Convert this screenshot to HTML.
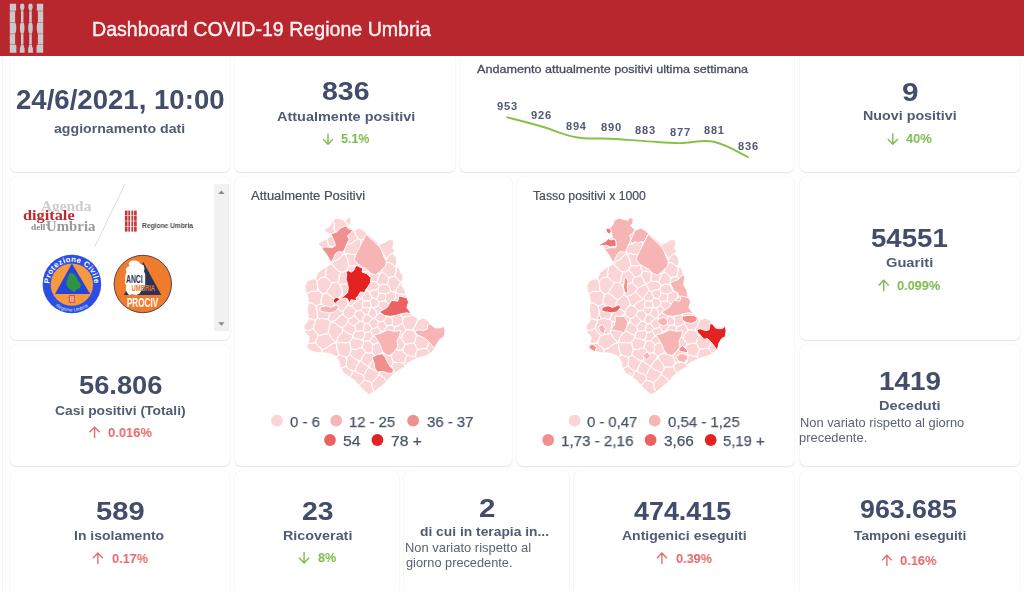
<!DOCTYPE html>
<html lang="it"><head><meta charset="utf-8"><title>Dashboard COVID-19 Regione Umbria</title>
<style>
html,body{margin:0;padding:0}
body{width:1024px;height:591px;overflow:hidden;background:#fefefe;position:relative;font-family:"Liberation Sans",sans-serif}
.hdr{position:absolute;left:0;top:0;width:1024px;height:56px;background:#b8272d;z-index:5}
.card{position:absolute;background:#fff;border-radius:6px;box-shadow:0 1px 1.5px rgba(0,0,0,.09),0 0 1.5px rgba(0,0,0,.08)}
.t{position:absolute;white-space:nowrap;line-height:1;transform-origin:0 0;z-index:6;will-change:transform}
svg{position:absolute;left:0;top:0;overflow:visible}
.ov{z-index:4}
.top{z-index:7}
</style></head><body>
<div class="card" style="left:9.5px;top:20px;width:220.5px;height:152px"></div>
<div class="card" style="left:235px;top:20px;width:220px;height:152px"></div>
<div class="card" style="left:460px;top:20px;width:334px;height:152px"></div>
<div class="card" style="left:800px;top:20px;width:220px;height:152px"></div>
<div class="card" style="left:9.5px;top:177px;width:220.5px;height:163px"></div>
<div class="card" style="left:235px;top:177px;width:277px;height:289px"></div>
<div class="card" style="left:517px;top:177px;width:277px;height:289px"></div>
<div class="card" style="left:800px;top:177px;width:220px;height:163px"></div>
<div class="card" style="left:9.5px;top:345px;width:220.5px;height:121px"></div>
<div class="card" style="left:800px;top:345px;width:220px;height:121px"></div>
<div class="card" style="left:9.5px;top:471px;width:220.5px;height:139px"></div>
<div class="card" style="left:235px;top:471px;width:164px;height:139px"></div>
<div class="card" style="left:404px;top:471px;width:165px;height:139px"></div>
<div class="card" style="left:574px;top:471px;width:220px;height:139px"></div>
<div class="card" style="left:800px;top:471px;width:220px;height:139px"></div>
<div style="position:absolute;left:2px;top:56px;width:1px;height:535px;background:#f4f4f4"></div>
<div class="hdr"></div>
<svg class="ov" width="1024" height="591" viewBox="0 0 1024 591">
<defs><filter id="mblur" x="-5%" y="-5%" width="110%" height="110%"><feGaussianBlur stdDeviation="0.4"/></filter></defs>
<g transform="translate(0,0)" stroke="#fff" stroke-width="0.95" stroke-linejoin="round" filter="url(#mblur)">
<g id="umbriaBase"><path d="M304.9,286.6 L305.7,291.1 L307.9,297.2 L308.3,302.1 L307.4,309.2 L308.3,316.3 L307.4,321.7 L303.9,326.1 L304.8,332.3 L309.2,336.8 L308.3,342.1 L306.6,346.6 L309.2,350.1 L314.6,351.9 L319.9,352.8 L324.3,352.8 L330.6,353.7 L335.9,356.3 L339.4,361.7 L340.3,367.9 L343.9,373.2 L349.2,376.8 L354.6,380.3 L358.1,384.8 L361.7,388.3 L365.2,391.5 L368.6,394.6 L373.0,392.8 L377.4,389.2 L381.9,385.7 L386.3,382.1 L389.9,377.7 L394.3,373.2 L399.7,369.7 L405.0,367.0 L406.8,363.4 L412.1,360.8 L418.3,358.1 L424.6,356.3 L430.8,353.7 L434.3,349.2 L437.0,343.9 L439.7,339.4 L444.1,336.8 L445.0,330.6 L444.1,326.1 L440.6,327.9 L435.2,327.0 L430.8,324.3 L428.1,320.8 L423.7,318.1 L418.3,319.9 L415.7,317.2 L411.2,313.7 L406.8,307.4 L408.6,302.1 L406.8,297.7 L405.4,294.2 L404.6,289.6 L401.5,285.0 L402.3,280.5 L403.1,275.9 L400.8,272.9 L399.3,268.3 L395.5,266.0 L397.0,262.2 L396.2,257.6 L393.2,254.6 L394.7,250.8 L392.4,247.7 L393.9,243.9 L393.2,240.1 L389.4,239.4 L384.8,242.4 L380.2,243.9 L376.4,241.6 L371.9,237.8 L367.3,234.0 L366.6,233.3 L362.8,230.2 L359.0,227.9 L355.9,229.5 L352.1,228.7 L348.3,225.7 L350.6,223.4 L351.3,218.8 L348.3,217.3 L346.0,220.3 L342.2,219.6 L336.9,218.0 L332.3,220.3 L330.8,224.9 L327.7,227.9 L323.9,229.5 L325.5,231.7 L330.0,234.0 L329.3,237.8 L325.5,239.4 L321.6,241.6 L317.8,243.9 L321.6,247.7 L323.9,251.5 L327.7,256.1 L330.0,260.7 L331.5,263.7 L326.2,266.8 L321.6,269.8 L317.8,272.9 L315.6,278.2 L310.2,279.7 L306.4,282.0Z" fill="#fbd5d5" stroke="none"/><path d="M380.5,273.2 L382.3,272.5 L382.3,271.5 L382.1,270.4 L382.5,269.2 L383.1,268.2 L383.3,267.1 L383.2,265.7 L383.5,264.1 L384.2,262.5 L382.8,262.3 L382.0,262.6 L381.1,262.5 L379.3,262.0 L377.2,262.2 L375.9,262.6 L374.5,262.4 L372.9,262.0 L371.8,262.3 L371.4,263.4 L371.0,264.2 L370.3,265.3 L370.0,266.7 L370.1,267.9 L370.1,269.1 L369.6,270.8 L371.3,271.6 L372.8,271.9 L374.0,271.8 L375.2,272.4 L376.5,273.0 L377.7,272.9 L378.5,273.2 L379.3,274.0Z M307.5,293.3 L309.0,292.7 L309.9,292.1 L310.7,291.5 L312.4,291.3 L313.7,291.4 L314.9,291.5 L317.0,291.3 L318.4,290.6 L317.9,289.1 L317.6,287.1 L317.5,285.6 L317.6,284.8 L317.5,283.9 L317.2,282.6 L316.9,281.5 L316.9,280.8 L316.2,280.2 L315.7,279.0 L314.9,278.7 L314.4,278.5 L310.2,279.7 L306.4,282.0 L304.9,286.6 L305.7,291.1 L306.7,293.8Z M394.0,251.8 L393.2,252.9 L392.4,253.6 L390.8,254.1 L390.1,254.7 L389.4,255.7 L387.9,256.9 L387.3,258.2 L386.6,259.4 L386.0,260.3 L385.6,261.4 L387.0,262.5 L388.7,262.6 L390.5,263.2 L391.8,264.2 L392.6,264.5 L393.1,264.9 L393.8,266.0 L395.0,266.3 L396.6,266.7 L395.5,266.0 L397.0,262.2 L396.2,257.6 L393.2,254.6 L394.4,251.5Z M374.4,391.4 L373.6,390.9 L372.8,389.3 L372.2,387.7 L371.9,386.7 L371.8,385.0 L371.7,383.2 L371.6,382.5 L370.1,382.0 L368.5,381.1 L367.0,381.0 L365.8,380.8 L364.4,380.0 L362.9,381.0 L362.3,382.2 L361.5,383.3 L360.1,384.2 L359.6,384.8 L358.6,385.2 L358.6,385.2 L361.7,388.3 L365.2,391.5 L368.6,394.6 L373.0,392.8 L374.5,391.6Z M362.9,306.4 L362.5,305.4 L362.3,304.2 L362.5,303.0 L363.0,302.2 L363.2,301.4 L362.7,300.5 L362.3,299.3 L361.7,298.7 L360.7,298.9 L359.4,300.0 L358.8,300.7 L357.2,301.3 L355.9,301.8 L355.2,302.6 L353.4,303.8 L352.3,305.1 L351.5,306.3 L352.7,306.9 L353.9,307.9 L354.9,309.2 L355.7,309.6 L356.2,310.5 L356.7,310.9 L358.0,310.9 L359.7,310.5 L360.8,310.1 L361.6,308.8 L363.0,307.5Z M376.5,289.3 L375.5,289.7 L373.7,290.1 L372.1,290.5 L371.2,290.9 L369.7,291.4 L369.9,293.5 L370.3,294.8 L371.0,295.5 L371.7,296.9 L372.3,298.1 L373.1,297.9 L374.0,298.2 L375.3,298.9 L376.4,299.2 L376.6,298.5 L377.3,297.4 L378.3,295.8 L378.7,294.0 L379.0,292.5 L378.5,291.7 L378.2,291.1 L377.9,289.8 L377.5,288.9Z M339.2,271.4 L338.0,270.7 L336.9,269.4 L336.0,269.0 L335.4,268.2 L334.7,266.8 L333.9,266.3 L332.7,265.4 L331.3,263.9 L331.0,264.0 L326.3,266.7 L326.4,267.1 L326.5,268.4 L326.0,270.3 L325.6,272.1 L325.8,273.4 L326.0,274.5 L325.6,275.7 L325.1,277.0 L326.4,277.5 L327.3,278.1 L328.1,279.5 L328.9,280.0 L329.9,280.8 L331.2,282.2 L332.5,282.8 L333.5,282.4 L334.7,282.4 L336.2,282.6 L337.1,282.7 L337.6,282.5 L337.9,281.8 L338.7,280.6 L339.2,278.9 L339.1,277.2 L339.4,275.8 L340.2,274.4 L340.5,273.0 L340.3,271.8Z M334.3,340.6 L333.0,339.8 L331.9,339.1 L331.1,337.5 L330.6,336.7 L330.1,335.7 L329.4,334.1 L328.4,333.5 L326.2,334.1 L324.6,334.3 L323.4,334.5 L321.6,334.8 L320.3,335.4 L319.8,335.7 L318.4,335.6 L317.7,336.5 L317.5,337.4 L317.4,338.3 L316.7,339.6 L315.9,341.3 L315.7,342.9 L316.2,344.1 L316.8,344.6 L317.8,345.8 L318.9,346.8 L319.9,347.1 L320.8,348.3 L321.4,349.5 L321.8,350.0 L322.7,349.3 L324.1,348.9 L324.7,348.6 L325.7,348.2 L327.3,347.6 L328.0,346.7 L329.2,345.7 L331.0,344.8 L331.9,344.1 L333.0,343.5 L334.8,343.1 L335.6,342.7 L335.6,342.4 L335.4,342.0Z M361.7,361.2 L362.3,361.8 L362.9,363.1 L363.8,363.6 L364.9,364.0 L366.3,365.2 L367.8,365.9 L369.0,366.2 L370.0,364.9 L370.2,363.5 L371.1,362.3 L372.2,361.3 L372.5,360.7 L373.2,360.1 L374.4,359.3 L374.8,358.1 L375.3,356.6 L374.7,355.3 L374.0,354.6 L373.2,354.1 L372.2,353.1 L371.0,352.7 L369.6,352.9 L368.0,353.2 L366.9,353.0 L366.4,352.6 L365.6,352.8 L364.5,353.9 L363.8,354.9 L363.6,355.6 L362.7,356.5 L361.7,357.7 L361.5,359.2 L360.9,360.8Z M406.1,344.2 L407.4,344.3 L408.1,343.9 L409.4,343.5 L411.4,343.4 L412.8,343.3 L414.0,343.1 L414.8,341.2 L415.4,339.5 L415.4,338.2 L415.7,337.5 L416.6,336.8 L416.9,335.8 L415.8,334.3 L414.9,333.0 L414.3,332.3 L413.8,330.9 L413.4,329.4 L412.5,329.9 L410.7,330.1 L409.2,329.9 L408.0,329.7 L406.3,330.1 L405.1,331.2 L404.7,332.0 L404.2,332.6 L402.9,333.4 L402.3,334.6 L402.0,336.1 L400.9,337.8 L401.6,339.2 L402.4,339.9 L403.2,341.3 L404.0,342.5 L404.5,342.9 L404.9,343.9Z M395.6,294.4 L395.4,295.8 L395.7,297.1 L395.7,297.9 L395.2,298.5 L394.7,299.7 L394.5,301.5 L395.0,302.5 L395.8,302.8 L397.0,303.4 L398.4,304.6 L400.0,305.0 L401.3,305.4 L402.2,306.5 L402.9,305.6 L404.4,304.7 L405.2,303.9 L405.7,303.3 L407.1,302.8 L408.1,302.4 L408.5,301.9 L406.8,297.7 L405.6,294.6 L404.6,294.6 L403.2,294.8 L402.1,294.3 L400.7,293.8 L399.4,294.0 L398.6,293.9 L397.7,293.2 L396.0,293.1Z M342.5,329.1 L342.4,327.6 L340.7,326.9 L339.1,326.7 L338.0,325.5 L337.4,324.9 L336.7,324.7 L335.9,323.6 L334.5,322.9 L332.9,322.7 L331.3,321.6 L330.3,321.3 L330.4,322.7 L329.8,324.6 L329.3,326.4 L329.3,327.7 L329.4,328.6 L328.8,329.6 L328.3,330.8 L328.4,332.1 L328.4,333.5 L329.4,334.1 L330.1,335.7 L330.6,336.7 L331.1,337.5 L331.9,339.1 L333.0,339.8 L334.3,340.6 L335.4,342.0 L336.4,340.8 L337.5,339.2 L337.7,337.6 L338.5,336.2 L339.6,335.2 L340.0,334.5 L340.5,333.8 L341.7,332.9 L342.3,331.7 L342.6,330.3Z M399.0,280.2 L398.0,279.3 L397.4,279.0 L396.9,277.7 L396.2,277.0 L395.1,276.6 L393.3,276.6 L391.9,276.7 L390.9,277.0 L389.3,277.5 L388.6,279.0 L388.5,280.6 L388.4,282.0 L387.8,283.0 L387.1,283.7 L386.9,284.2 L388.0,285.1 L389.0,286.9 L389.8,288.0 L390.3,289.3 L390.7,291.3 L391.2,291.3 L392.0,291.4 L393.5,292.0 L395.3,292.6 L395.9,291.0 L396.1,289.5 L397.0,288.3 L397.9,287.3 L398.1,286.5 L398.7,285.4 L399.8,284.1 L400.1,282.8 L400.5,281.5Z M362.3,339.8 L361.5,340.0 L359.9,339.5 L358.0,338.7 L356.5,338.8 L355.3,338.6 L354.0,337.7 L352.6,337.6 L351.9,338.7 L351.8,339.5 L350.9,340.4 L349.9,341.6 L349.8,343.1 L350.0,344.5 L350.2,345.5 L350.5,347.1 L350.9,348.7 L351.4,349.4 L353.4,349.2 L354.6,349.3 L355.7,349.5 L357.2,349.1 L358.2,348.4 L358.8,348.1 L360.3,348.2 L362.2,348.2 L362.2,346.9 L362.1,345.8 L362.6,344.8 L363.3,344.0 L363.5,343.1 L363.4,341.9 L362.9,340.4Z M355.8,311.6 L355.1,312.6 L354.6,313.5 L354.5,314.6 L355.1,315.9 L355.8,317.5 L356.8,318.2 L357.9,319.2 L358.8,320.7 L359.6,321.3 L360.4,321.2 L361.6,321.3 L362.7,321.7 L362.8,319.9 L363.0,318.0 L363.9,316.6 L364.6,315.8 L364.7,315.2 L364.3,314.1 L363.7,313.0 L362.9,312.6 L361.9,311.5 L360.8,310.1 L359.7,310.5 L358.0,310.9 L356.7,310.9 L356.2,310.5Z M348.9,283.1 L347.8,283.7 L347.3,284.0 L345.9,284.0 L344.2,283.9 L343.2,284.0 L341.8,284.3 L339.8,284.7 L340.3,285.5 L341.0,287.3 L341.7,289.3 L342.3,290.5 L342.4,291.8 L342.3,293.4 L342.1,294.3 L342.0,294.9 L342.7,295.5 L343.6,296.3 L344.7,296.6 L346.0,296.1 L346.9,295.7 L348.6,295.2 L350.1,294.5 L350.8,293.7 L352.3,292.9 L353.6,292.1 L354.1,291.5 L354.7,289.9 L355.6,289.0 L355.7,288.3 L355.0,287.7 L353.9,286.2 L352.8,285.5 L351.7,284.8 L350.9,283.2 L350.2,282.3Z M354.3,230.0 L354.7,231.1 L355.0,232.3 L355.4,234.2 L355.9,235.2 L356.6,236.1 L357.4,237.7 L358.3,238.3 L359.1,239.0 L359.9,239.5 L360.6,240.0 L361.1,239.7 L362.3,239.3 L363.6,238.6 L364.1,237.6 L365.5,236.4 L366.9,235.4 L367.7,234.6 L367.9,234.5 L367.3,234.0 L366.6,233.3 L362.8,230.2 L359.0,227.9 L355.9,229.5 L354.0,229.1Z M316.0,307.0 L316.5,308.2 L317.0,310.0 L317.3,311.9 L317.3,312.9 L317.1,313.5 L317.2,314.7 L317.4,316.0 L317.6,317.1 L317.4,318.2 L318.3,318.4 L319.0,318.8 L320.7,318.5 L322.7,318.3 L324.1,318.7 L325.4,319.2 L327.0,319.1 L328.3,319.1 L328.3,318.4 L328.5,317.6 L329.2,316.2 L329.8,314.2 L329.8,312.3 L329.7,311.1 L330.2,310.4 L330.8,309.5 L330.7,308.2 L329.3,307.5 L327.7,307.5 L326.2,306.7 L325.0,305.8 L324.3,305.8 L323.7,305.1 L322.6,304.2 L321.0,304.0 L319.3,304.6 L318.5,304.9 L317.5,305.3 L315.9,305.8Z M343.6,296.3 L342.7,295.5 L342.0,294.9 L341.5,295.3 L340.6,296.1 L339.1,297.1 L338.3,298.1 L337.2,298.9 L335.4,299.5 L335.3,300.7 L335.3,301.3 L334.8,301.9 L334.1,302.9 L334.0,304.6 L333.9,306.5 L334.7,307.1 L335.2,307.4 L335.9,308.6 L337.1,309.2 L338.8,309.5 L340.6,310.7 L342.0,311.3 L343.0,311.6 L343.4,310.3 L344.7,308.9 L345.5,307.8 L345.8,307.0 L347.0,306.5 L347.9,305.9 L348.2,305.0 L348.0,304.2 L347.7,302.5 L347.3,301.0 L346.8,300.1 L346.1,298.6 L345.3,297.1 L344.7,296.6Z M364.6,333.9 L364.4,335.3 L364.4,336.4 L364.0,337.2 L363.2,338.4 L362.9,340.4 L363.4,341.9 L364.8,341.4 L366.7,340.8 L368.1,340.8 L369.2,340.9 L370.2,339.7 L371.2,338.7 L371.4,337.9 L372.1,337.1 L373.2,336.0 L372.6,335.2 L371.9,334.0 L371.2,332.3 L370.5,331.1 L369.3,331.7 L367.8,332.1 L366.9,332.2 L366.4,332.2 L365.2,332.5Z M382.6,344.7 L382.1,345.8 L382.1,346.8 L382.3,348.7 L382.4,350.8 L382.2,352.2 L382.1,353.0 L384.1,353.8 L385.9,354.5 L387.1,354.4 L387.7,354.9 L388.6,355.8 L389.9,355.8 L391.4,356.1 L391.8,354.9 L392.5,353.5 L393.7,352.1 L394.3,351.1 L394.7,350.3 L393.9,349.7 L393.2,348.2 L392.9,347.5 L392.6,346.6 L392.2,344.9 L391.6,343.9 L389.8,343.9 L388.5,343.3 L387.1,343.1 L385.6,343.3 L384.2,342.9 L383.7,343.2 L383.1,343.3Z M372.1,337.1 L371.4,337.9 L371.2,338.7 L370.2,339.7 L369.2,340.9 L370.2,341.7 L370.9,342.1 L371.6,343.1 L372.3,344.3 L373.0,344.7 L374.3,343.9 L375.0,343.3 L376.5,343.0 L378.3,342.9 L379.3,342.9 L380.4,342.8 L379.7,341.5 L378.9,340.3 L378.2,339.6 L377.6,337.9 L377.3,336.2 L376.0,336.6 L375.0,336.7 L374.4,336.3 L373.2,336.0Z M331.3,263.9 L332.9,262.8 L333.6,261.7 L334.8,260.9 L336.3,260.3 L336.9,259.9 L337.9,259.5 L339.3,258.8 L339.7,257.9 L340.7,256.8 L342.0,255.8 L342.4,254.9 L343.4,254.3 L344.8,253.9 L344.9,253.4 L344.6,252.1 L344.4,251.2 L344.3,250.4 L344.2,249.1 L343.3,248.4 L342.3,248.4 L340.7,248.6 L338.6,248.0 L337.0,247.5 L336.2,247.7 L335.5,247.5 L334.3,246.7 L332.9,246.5 L331.7,246.6 L330.4,246.0 L328.7,245.3 L327.5,246.1 L327.1,247.1 L326.7,248.4 L325.5,250.0 L324.9,251.6 L324.7,252.5 L327.7,256.1 L330.0,260.7 L331.5,263.7 L331.0,264.0Z M390.6,366.3 L389.7,366.8 L387.9,367.1 L386.4,367.1 L385.4,367.1 L384.0,367.1 L382.4,367.4 L382.1,368.6 L381.7,370.0 L380.6,371.3 L379.8,372.5 L379.6,373.3 L379.5,374.3 L379.2,374.9 L380.5,375.2 L381.9,376.5 L383.2,377.3 L384.3,377.7 L385.0,379.1 L385.5,379.9 L386.0,380.5 L386.6,381.7 L389.9,377.7 L394.3,373.2 L395.2,372.6 L394.5,371.9 L393.6,371.3 L392.9,370.0 L392.5,368.9 L392.2,368.5 L392.0,367.1 L391.6,365.7Z M357.6,360.0 L356.2,359.8 L355.0,358.8 L354.0,357.7 L353.0,357.5 L352.0,356.3 L350.7,355.4 L349.4,355.1 L348.7,356.0 L347.5,356.7 L345.9,357.2 L346.1,358.4 L346.5,359.0 L346.7,359.8 L346.5,361.3 L346.2,363.2 L346.3,364.6 L346.5,365.9 L347.1,367.0 L347.5,367.9 L348.2,368.1 L349.2,369.1 L350.6,370.1 L352.2,370.3 L353.6,371.1 L354.6,371.1 L355.1,371.1 L355.4,369.4 L356.4,367.6 L356.9,366.0 L357.0,364.9 L357.6,364.2 L358.5,363.6 L358.8,362.7 L358.9,361.1Z M316.3,319.1 L317.4,318.2 L317.6,317.1 L317.4,316.0 L317.2,314.7 L317.1,313.5 L317.3,312.9 L317.3,311.9 L317.0,310.0 L316.5,308.2 L316.0,307.0 L315.9,305.8 L314.7,304.9 L314.0,304.4 L313.5,304.4 L312.5,303.6 L311.0,302.8 L309.2,302.8 L308.2,302.5 L307.4,309.2 L308.3,316.3 L308.0,318.2 L308.2,318.5 L309.4,318.9 L311.4,318.8 L313.4,319.6 L314.8,320.2 L315.5,320.1Z M377.3,320.3 L376.6,320.0 L376.0,319.2 L375.6,318.0 L374.6,318.1 L373.1,318.4 L372.5,318.9 L372.0,319.5 L370.8,320.3 L369.8,321.4 L369.4,322.6 L368.3,323.7 L369.4,324.4 L370.2,326.0 L370.7,326.6 L371.4,327.4 L372.3,328.8 L373.3,328.6 L374.6,328.1 L376.6,327.6 L377.9,327.3 L377.7,325.7 L377.7,324.5 L378.1,323.4 L378.4,322.2 L378.2,321.0Z M402.2,308.2 L401.5,309.1 L400.9,309.8 L400.9,311.0 L400.7,312.6 L400.0,314.1 L400.5,314.6 L401.2,315.8 L402.1,317.1 L403.2,317.7 L404.7,317.0 L405.8,316.7 L407.5,316.5 L408.9,316.4 L409.4,315.9 L410.4,315.5 L411.9,315.3 L412.8,315.5 L413.9,315.8 L413.9,315.8 L411.2,313.7 L406.8,307.4 L408.6,302.1 L408.5,301.9 L408.1,302.4 L407.1,302.8 L405.7,303.3 L405.2,303.9 L404.4,304.7 L402.9,305.6 L402.2,306.5Z M379.3,306.7 L380.2,307.2 L381.0,307.9 L381.9,309.2 L383.0,309.8 L384.3,310.3 L385.0,309.7 L386.0,308.9 L387.6,308.2 L388.7,307.5 L389.2,307.0 L389.6,305.9 L390.2,305.0 L390.6,304.3 L389.3,304.1 L387.9,303.3 L386.6,302.1 L385.6,301.7 L384.9,301.0 L384.0,301.1 L383.3,301.1 L381.7,301.2 L380.4,301.6 L379.3,302.2 L379.0,302.9 L378.5,303.9 L378.3,305.3Z M377.6,337.9 L378.2,339.6 L378.9,340.3 L379.7,341.5 L380.4,342.8 L381.9,342.8 L383.1,343.3 L383.7,343.2 L384.2,342.9 L384.9,341.3 L385.5,339.6 L385.7,338.3 L385.7,337.1 L386.2,335.9 L386.9,334.7 L387.1,333.7 L386.4,333.3 L385.4,332.4 L384.4,330.9 L383.1,331.0 L381.5,331.3 L380.4,331.3 L380.1,332.2 L379.4,332.9 L378.2,333.6 L377.9,334.7 L377.3,336.2Z M333.6,221.7 L334.1,223.6 L334.3,224.6 L334.2,225.9 L334.1,227.4 L334.1,228.1 L334.2,228.8 L334.6,230.3 L335.1,231.8 L336.3,231.7 L337.8,232.1 L339.7,232.8 L341.2,232.8 L342.0,232.9 L342.6,232.2 L344.0,231.7 L344.7,231.2 L345.4,230.4 L346.9,229.3 L347.6,228.0 L348.6,226.8 L347.9,225.7 L347.4,225.0 L347.0,223.5 L346.5,222.8 L345.6,222.1 L344.6,220.6 L343.4,220.0 L343.3,219.8 L342.2,219.6 L336.9,218.0 L332.9,220.0Z M345.8,245.9 L345.1,247.4 L344.2,249.1 L344.3,250.4 L344.4,251.2 L344.6,252.1 L344.9,253.4 L345.8,253.7 L347.3,253.5 L349.4,253.7 L351.0,254.3 L351.9,254.6 L352.8,254.3 L354.1,254.4 L355.3,254.9 L356.1,254.9 L357.3,254.6 L359.3,254.6 L360.3,253.2 L360.7,252.0 L361.6,251.2 L362.9,250.6 L363.3,250.0 L362.5,249.3 L361.7,247.7 L361.2,246.0 L360.8,244.9 L360.7,243.4 L360.8,241.6 L360.8,240.8 L360.6,240.0 L359.9,239.5 L359.1,239.0 L357.3,239.3 L356.4,239.9 L355.1,240.7 L353.2,241.8 L352.2,242.8 L351.2,243.5 L349.6,244.0 L348.8,244.2 L348.2,244.3 L346.8,244.4 L345.9,244.8Z M337.1,282.7 L336.2,282.6 L334.7,282.4 L333.5,282.4 L332.5,282.8 L331.7,284.1 L330.6,285.5 L330.2,286.7 L329.8,287.6 L328.6,288.4 L327.9,289.3 L327.6,290.4 L326.7,291.8 L325.6,293.2 L327.3,293.5 L328.8,294.6 L330.0,295.6 L330.9,295.9 L331.6,297.1 L332.5,297.9 L333.8,298.2 L335.4,299.5 L337.2,298.9 L338.3,298.1 L339.1,297.1 L340.6,296.1 L341.5,295.3 L342.0,294.9 L342.1,294.3 L342.3,293.4 L342.4,291.8 L342.3,290.5 L341.7,289.3 L341.0,287.3 L340.3,285.5 L339.8,284.7 L338.8,283.9 L338.0,282.8 L337.6,282.5Z M346.8,323.2 L346.4,324.4 L345.2,325.3 L344.1,326.0 L343.7,326.7 L342.4,327.6 L342.5,329.1 L342.6,330.3 L343.7,330.4 L344.7,331.3 L345.7,332.2 L346.7,332.3 L347.8,333.0 L349.1,334.0 L350.4,334.3 L351.8,334.7 L353.0,335.8 L353.6,334.3 L353.7,333.0 L354.3,331.9 L355.3,331.2 L355.8,330.6 L355.6,330.0 L355.3,329.0 L355.0,327.3 L354.8,325.8 L353.1,325.6 L351.7,324.8 L350.7,323.8 L349.9,323.6 L349.0,322.8 L347.8,321.8Z M367.4,290.9 L368.3,291.1 L369.7,291.4 L371.2,290.9 L372.1,290.5 L373.7,290.1 L375.5,289.7 L376.5,289.3 L377.5,288.9 L378.2,288.5 L378.7,287.9 L378.8,286.8 L378.7,285.4 L378.1,283.8 L377.3,283.0 L376.5,282.2 L375.1,281.6 L374.1,281.3 L372.9,281.6 L371.5,281.4 L370.6,280.8 L369.4,280.9 L367.8,282.0 L366.4,282.9 L365.6,283.5 L363.9,283.9 L363.5,284.4 L364.3,285.0 L365.1,286.4 L365.9,287.8 L366.4,288.6 L366.9,289.8Z M352.1,277.6 L351.3,278.7 L350.6,279.8 L350.5,281.0 L350.2,282.3 L350.9,283.2 L351.7,284.8 L352.8,285.5 L353.9,286.2 L355.0,287.7 L355.7,288.3 L356.5,287.7 L358.0,287.0 L358.9,286.5 L359.5,286.0 L361.2,285.5 L362.5,285.0 L363.5,284.4 L363.9,283.9 L363.0,282.8 L362.4,281.7 L362.0,281.4 L361.6,280.3 L361.2,278.9 L360.6,278.2 L359.8,277.1 L358.8,275.4 L356.9,275.9 L355.9,276.6 L354.5,277.0 L353.0,276.9 L352.3,276.6Z M402.0,350.1 L400.4,350.3 L399.1,350.2 L398.2,350.0 L396.6,350.0 L394.7,350.3 L394.3,351.1 L393.7,352.1 L392.5,353.5 L391.8,354.9 L391.4,356.1 L391.7,357.6 L391.9,358.5 L392.2,358.9 L392.5,359.9 L392.9,361.5 L393.3,362.8 L394.1,362.3 L395.4,362.3 L396.7,362.7 L397.4,362.8 L398.7,362.5 L400.8,362.5 L402.5,363.1 L403.5,363.5 L404.3,362.5 L405.2,360.9 L405.4,359.1 L405.9,357.4 L406.9,356.1 L407.3,355.4 L406.3,354.6 L405.2,353.3 L404.2,352.7 L403.5,351.9 L403.0,350.3 L402.7,349.5Z M384.6,329.6 L385.4,328.3 L386.5,327.2 L387.0,326.3 L387.3,325.7 L386.2,324.9 L385.3,323.6 L384.7,323.2 L384.2,322.3 L383.8,320.8 L383.3,321.1 L382.4,321.4 L380.8,321.6 L379.2,321.4 L378.2,321.0 L378.4,322.2 L378.1,323.4 L377.7,324.5 L377.7,325.7 L377.9,327.3 L378.8,328.7 L379.3,329.3 L379.8,330.0 L380.4,331.3 L381.5,331.3 L383.1,331.0 L384.4,330.9Z M384.0,367.1 L385.4,367.1 L386.4,367.1 L387.9,367.1 L389.7,366.8 L390.6,366.3 L391.6,365.7 L392.5,364.8 L393.1,363.8 L393.3,362.8 L392.9,361.5 L392.5,359.9 L392.2,358.9 L391.9,358.5 L391.7,357.6 L391.4,356.1 L389.9,355.8 L388.6,355.8 L387.7,354.9 L387.1,354.4 L385.9,354.5 L384.1,353.8 L382.1,353.0 L381.1,353.4 L380.3,353.8 L378.7,354.3 L377.8,354.9 L377.3,355.8 L376.1,356.7 L376.4,357.6 L376.9,359.1 L377.7,360.7 L378.7,361.4 L379.8,362.6 L380.6,363.8 L381.2,364.2 L381.6,365.5 L381.9,366.7 L382.4,367.4Z M363.7,376.1 L364.0,377.3 L364.2,378.4 L364.3,378.9 L364.4,380.0 L365.8,380.8 L367.0,381.0 L368.5,381.1 L370.1,382.0 L371.6,382.5 L372.3,381.8 L372.8,381.3 L374.1,380.8 L374.9,380.0 L375.3,379.0 L376.6,377.7 L377.5,376.5 L377.9,375.6 L379.2,374.9 L379.5,374.3 L379.6,373.3 L378.9,372.3 L378.0,372.2 L376.8,371.6 L375.4,370.5 L373.9,370.3 L372.7,369.9 L371.7,368.8 L370.8,368.3 L369.9,368.1 L368.9,367.0 L368.1,367.9 L367.9,368.7 L367.1,369.6 L366.0,370.6 L365.6,372.0 L365.2,373.3 L364.1,374.5 L363.4,375.4Z M341.4,315.0 L340.9,315.4 L339.9,316.0 L338.4,316.9 L337.8,318.1 L336.6,319.2 L335.0,320.1 L334.2,320.8 L332.9,321.2 L331.3,321.6 L332.9,322.7 L334.5,322.9 L335.9,323.6 L336.7,324.7 L337.4,324.9 L338.0,325.5 L339.1,326.7 L340.7,326.9 L342.4,327.6 L343.7,326.7 L344.1,326.0 L345.2,325.3 L346.4,324.4 L346.8,323.2 L347.8,321.8 L348.1,320.7 L348.1,319.8 L347.9,318.7 L346.9,317.5 L345.7,317.2 L344.7,316.6 L343.9,315.4 L343.3,314.9 L342.8,314.5Z M378.6,248.2 L379.1,249.3 L379.7,249.7 L380.4,251.1 L381.4,252.3 L382.6,253.0 L383.8,254.7 L384.9,255.9 L385.6,256.7 L386.1,258.4 L386.6,259.4 L387.3,258.2 L387.9,256.9 L389.4,255.7 L390.1,254.7 L390.8,254.1 L392.4,253.6 L393.2,252.9 L394.0,251.8 L394.4,251.5 L394.7,250.8 L392.4,247.7 L393.9,243.9 L393.2,240.1 L389.4,239.4 L384.8,242.4 L380.2,243.9 L379.0,243.2 L378.8,244.0 L378.9,245.5 L378.7,246.4 L377.9,247.0Z M373.2,354.1 L374.0,354.6 L374.7,355.3 L375.3,356.6 L376.1,356.7 L377.3,355.8 L377.8,354.9 L378.7,354.3 L380.3,353.8 L381.1,353.4 L382.1,353.0 L382.2,352.2 L382.4,350.8 L382.3,348.7 L382.1,346.8 L382.1,345.8 L382.6,344.7 L383.1,343.3 L381.9,342.8 L380.4,342.8 L379.3,342.9 L378.3,342.9 L376.5,343.0 L375.0,343.3 L374.3,343.9 L373.0,344.7 L372.5,346.1 L372.3,347.8 L372.6,349.2 L372.7,350.0 L372.5,350.5 L372.1,351.4 L372.2,353.1Z M393.0,326.1 L394.0,326.2 L394.9,326.7 L395.8,326.5 L396.7,326.2 L398.5,325.7 L400.0,324.9 L400.9,324.1 L402.4,323.4 L402.9,322.5 L402.8,321.7 L402.5,320.4 L402.7,319.0 L403.2,317.7 L402.1,317.1 L401.2,315.8 L400.5,314.6 L400.0,314.1 L398.8,314.4 L398.1,314.2 L397.0,314.3 L395.0,314.7 L394.1,315.5 L393.7,316.1 L392.8,316.6 L391.5,317.0 L391.7,317.8 L392.2,319.3 L392.6,321.1 L392.6,322.4 L392.3,323.6 L392.1,325.1Z M311.8,328.7 L311.2,329.3 L310.1,330.0 L308.4,330.5 L307.4,330.5 L305.8,330.3 L304.5,330.2 L304.8,332.3 L309.2,336.8 L308.3,342.1 L307.9,343.2 L308.9,343.3 L311.0,343.5 L312.1,343.3 L313.4,342.9 L315.0,342.8 L315.7,342.9 L315.9,341.3 L316.7,339.6 L317.4,338.3 L317.5,337.4 L317.7,336.5 L318.4,335.6 L317.9,334.2 L317.0,333.7 L316.0,332.3 L314.9,330.8 L313.9,330.0 L313.3,328.2Z M364.5,250.2 L366.1,250.9 L367.3,251.1 L367.9,250.9 L368.7,251.2 L370.2,251.8 L372.2,251.8 L373.2,250.5 L374.3,249.3 L376.0,248.3 L376.8,247.5 L377.9,247.0 L378.7,246.4 L378.9,245.5 L378.8,244.0 L379.0,243.2 L376.4,241.6 L371.9,237.8 L367.9,234.5 L367.7,234.6 L366.9,235.4 L365.5,236.4 L364.1,237.6 L363.6,238.6 L362.3,239.3 L361.1,239.7 L360.6,240.0 L360.8,240.8 L360.8,241.6 L360.7,243.4 L360.8,244.9 L361.2,246.0 L361.7,247.7 L362.5,249.3 L363.3,250.0Z M349.8,353.5 L350.6,352.0 L350.9,350.8 L350.8,350.0 L351.4,349.4 L350.9,348.7 L350.5,347.1 L350.2,345.5 L350.0,344.5 L349.8,343.1 L348.9,342.6 L347.4,342.6 L346.0,343.0 L344.9,342.9 L343.2,342.5 L341.3,342.6 L339.9,342.9 L339.2,342.7 L338.3,342.1 L336.9,342.2 L335.6,342.4 L335.6,342.7 L336.1,343.2 L336.5,344.4 L336.7,345.7 L336.8,346.5 L336.9,348.0 L337.1,350.0 L337.6,351.2 L338.2,352.5 L338.9,354.3 L339.6,355.1 L340.7,355.1 L341.9,355.8 L343.0,356.4 L343.8,356.3 L344.6,356.4 L345.9,357.2 L347.5,356.7 L348.7,356.0 L349.4,355.1Z M426.1,348.3 L425.3,348.6 L423.7,348.5 L422.2,348.5 L421.1,348.8 L419.5,349.1 L417.6,349.1 L417.3,350.0 L417.2,350.7 L416.4,351.8 L415.8,353.4 L415.8,355.2 L415.3,356.8 L416.2,357.9 L417.0,358.3 L417.2,358.6 L418.3,358.1 L424.6,356.3 L430.5,353.8 L429.6,352.5 L428.6,351.5 L427.7,350.6 L427.1,348.8 L426.7,347.6Z M392.8,316.6 L393.7,316.1 L394.1,315.5 L395.0,314.7 L393.8,313.8 L392.6,312.1 L391.7,311.2 L391.0,310.2 L390.5,308.6 L390.0,307.8 L389.2,307.0 L388.7,307.5 L387.6,308.2 L386.0,308.9 L385.0,309.7 L384.3,310.3 L383.9,311.5 L383.4,312.5 L384.2,313.4 L384.9,313.9 L385.5,315.4 L385.9,316.5 L386.9,316.2 L388.2,316.4 L389.2,316.9 L390.1,317.2 L391.5,317.0Z M429.7,334.8 L430.2,335.6 L430.6,337.1 L430.9,338.3 L432.1,338.1 L433.2,338.6 L434.1,339.3 L435.4,339.3 L437.2,339.4 L439.1,340.2 L439.2,340.2 L439.7,339.4 L444.1,336.8 L445.0,330.6 L444.1,326.1 L440.6,327.9 L435.2,327.0 L431.2,324.6 L430.7,325.4 L430.6,326.8 L430.7,328.2 L430.2,329.5 L429.5,330.8 L429.4,332.2 L429.5,333.4 L429.0,334.4Z M363.9,301.0 L364.9,300.8 L366.7,301.0 L368.5,301.2 L369.6,301.0 L370.2,299.8 L371.5,298.8 L372.3,298.1 L371.7,296.9 L371.0,295.5 L370.3,294.8 L369.9,293.5 L369.7,291.4 L368.3,291.1 L367.4,290.9 L366.9,289.8 L366.5,291.3 L365.5,292.6 L364.6,293.5 L364.4,294.3 L363.6,295.1 L362.5,296.1 L362.2,297.4 L361.7,298.7 L362.3,299.3 L362.7,300.5 L363.2,301.4Z M328.4,332.1 L328.3,330.8 L328.8,329.6 L329.4,328.6 L329.3,327.7 L329.3,326.4 L329.8,324.6 L330.4,322.7 L330.3,321.3 L329.4,321.0 L328.8,320.3 L328.3,319.1 L327.0,319.1 L325.4,319.2 L324.1,318.7 L322.7,318.3 L320.7,318.5 L319.0,318.8 L318.3,318.4 L317.4,318.2 L316.3,319.1 L315.5,320.1 L315.5,321.5 L315.3,322.8 L314.5,323.9 L313.9,324.6 L313.9,325.3 L313.8,326.5 L313.3,328.2 L313.9,330.0 L314.9,330.8 L316.0,332.3 L317.0,333.7 L317.9,334.2 L318.4,335.6 L319.8,335.7 L320.3,335.4 L321.6,334.8 L323.4,334.5 L324.6,334.3 L326.2,334.1 L328.4,333.5Z M369.1,315.8 L370.2,316.2 L371.3,316.6 L372.3,317.7 L373.1,318.4 L374.6,318.1 L375.6,318.0 L375.7,316.9 L376.4,315.6 L376.5,314.3 L376.4,312.3 L376.1,311.0 L375.5,310.3 L374.7,308.8 L373.8,307.8 L372.7,308.0 L371.4,307.7 L370.5,307.9 L369.8,308.1 L369.8,309.3 L369.6,310.5 L368.9,311.8 L368.3,313.2 L368.2,314.6Z M345.3,297.1 L346.1,298.6 L346.8,300.1 L347.3,301.0 L347.7,302.5 L348.0,304.2 L348.2,305.0 L349.0,305.1 L350.2,305.7 L351.5,306.3 L352.3,305.1 L353.4,303.8 L355.2,302.6 L355.9,301.8 L357.2,301.3 L358.8,300.7 L359.4,300.0 L360.7,298.9 L359.6,297.8 L358.3,296.3 L357.0,295.7 L355.9,294.5 L355.1,293.1 L354.6,292.5 L354.1,291.5 L353.6,292.1 L352.3,292.9 L350.8,293.7 L350.1,294.5 L348.6,295.2 L346.9,295.7 L346.0,296.1 L344.7,296.6Z M358.8,320.7 L357.9,319.2 L356.8,318.2 L355.8,317.5 L355.1,315.9 L354.5,314.6 L354.0,315.6 L352.6,316.6 L351.7,317.4 L351.3,318.0 L350.0,318.3 L348.6,318.5 L347.9,318.7 L348.1,319.8 L348.1,320.7 L347.8,321.8 L349.0,322.8 L349.9,323.6 L350.7,323.8 L351.7,324.8 L353.1,325.6 L354.8,325.8 L356.3,324.4 L356.8,323.3 L357.7,322.5 L359.1,322.0 L359.6,321.3Z M427.5,346.4 L428.3,345.3 L428.4,344.2 L428.8,343.2 L429.7,342.1 L430.3,340.9 L430.4,339.6 L430.9,338.3 L430.6,337.1 L430.2,335.6 L429.7,334.8 L429.0,334.4 L426.9,334.1 L425.7,333.8 L424.6,333.9 L423.0,334.5 L422.1,334.8 L421.5,334.7 L420.0,334.8 L418.1,335.3 L416.9,335.8 L416.6,336.8 L415.7,337.5 L415.4,338.2 L415.4,339.5 L414.8,341.2 L414.0,343.1 L414.8,343.9 L415.4,344.9 L415.9,346.4 L416.3,347.1 L416.8,347.7 L417.6,349.1 L419.5,349.1 L421.1,348.8 L422.2,348.5 L423.7,348.5 L425.3,348.6 L426.1,348.3 L426.7,347.6Z M348.7,265.0 L348.4,263.7 L348.1,262.9 L347.9,261.4 L347.5,259.4 L347.0,258.4 L346.4,257.0 L345.8,255.3 L345.3,254.6 L344.8,253.9 L343.4,254.3 L342.4,254.9 L342.0,255.8 L340.7,256.8 L339.7,257.9 L339.3,258.8 L337.9,259.5 L336.9,259.9 L336.3,260.3 L334.8,260.9 L333.6,261.7 L332.9,262.8 L331.3,263.9 L332.7,265.4 L333.9,266.3 L334.7,266.8 L335.4,268.2 L336.0,269.0 L336.9,269.4 L338.0,270.7 L339.2,271.4 L340.3,271.8 L341.6,271.9 L343.2,272.0 L343.8,271.8 L344.5,271.2 L346.0,270.4 L347.1,269.7 L347.2,268.4 L347.8,267.5 L348.8,266.8 L349.1,266.2Z M370.5,307.9 L371.4,307.7 L371.2,306.4 L371.1,305.6 L371.0,305.0 L370.7,303.5 L370.3,301.9 L369.6,301.0 L368.5,301.2 L366.7,301.0 L364.9,300.8 L363.9,301.0 L363.2,301.4 L363.0,302.2 L362.5,303.0 L362.3,304.2 L362.5,305.4 L362.9,306.4 L363.0,307.5 L364.5,307.5 L365.6,307.9 L367.1,307.9 L368.5,307.5 L369.2,307.6 L369.8,308.1Z M321.4,349.5 L320.8,348.3 L319.9,347.1 L318.9,346.8 L317.8,345.8 L316.8,344.6 L316.2,344.1 L315.7,342.9 L315.0,342.8 L313.4,342.9 L312.1,343.3 L311.0,343.5 L308.9,343.3 L307.9,343.2 L306.6,346.6 L309.2,350.1 L314.6,351.9 L319.9,352.8 L321.8,352.8 L321.9,351.7 L321.8,350.0Z M417.4,319.8 L417.3,321.1 L416.6,322.7 L415.7,324.4 L415.4,325.9 L415.2,326.8 L414.3,327.5 L413.5,328.2 L413.4,329.4 L413.8,330.9 L414.3,332.3 L414.9,333.0 L415.8,334.3 L416.9,335.8 L418.1,335.3 L420.0,334.8 L421.5,334.7 L422.1,334.8 L423.0,334.5 L424.6,333.9 L425.7,333.8 L426.9,334.1 L429.0,334.4 L429.5,333.4 L429.4,332.2 L429.5,330.8 L430.2,329.5 L430.7,328.2 L430.6,326.8 L430.7,325.4 L431.2,324.6 L430.8,324.3 L428.1,320.8 L423.7,318.1 L418.3,319.9 L417.7,319.3Z M329.8,236.4 L331.1,235.9 L332.1,235.2 L332.5,234.2 L333.9,233.0 L335.1,231.8 L334.6,230.3 L334.2,228.8 L334.1,228.1 L334.1,227.4 L334.2,225.9 L334.3,224.6 L334.1,223.6 L333.6,221.7 L332.9,220.0 L332.3,220.3 L330.8,224.9 L327.7,227.9 L323.9,229.5 L325.5,231.7 L330.0,234.0 L329.5,236.7Z M343.0,313.2 L342.8,314.5 L343.3,314.9 L343.9,315.4 L344.7,316.6 L345.7,317.2 L346.9,317.5 L347.9,318.7 L348.6,318.5 L350.0,318.3 L351.3,318.0 L351.7,317.4 L352.6,316.6 L354.0,315.6 L354.5,314.6 L354.6,313.5 L355.1,312.6 L355.8,311.6 L356.2,310.5 L355.7,309.6 L354.9,309.2 L353.9,307.9 L352.7,306.9 L351.5,306.3 L350.2,305.7 L349.0,305.1 L348.2,305.0 L347.9,305.9 L347.0,306.5 L345.8,307.0 L345.5,307.8 L344.7,308.9 L343.4,310.3 L343.0,311.6Z M361.6,321.3 L360.4,321.2 L359.6,321.3 L359.1,322.0 L357.7,322.5 L356.8,323.3 L356.3,324.4 L354.8,325.8 L355.0,327.3 L355.3,329.0 L355.6,330.0 L355.8,330.6 L356.3,330.8 L357.4,331.2 L359.0,331.2 L360.2,330.8 L361.4,330.5 L363.3,330.6 L363.8,328.7 L363.8,327.2 L363.7,326.4 L364.1,325.7 L364.7,324.7 L364.8,323.4 L363.9,322.6 L363.2,322.4 L362.7,321.7Z M391.3,303.9 L392.5,303.3 L394.0,302.5 L394.5,301.5 L394.7,299.7 L395.2,298.5 L395.7,297.9 L395.7,297.1 L395.4,295.8 L395.6,294.4 L396.0,293.1 L395.3,292.6 L393.5,292.0 L392.0,291.4 L391.2,291.3 L390.7,291.3 L389.6,292.3 L388.3,292.9 L387.9,293.4 L386.7,293.7 L385.3,294.1 L385.5,295.5 L385.7,296.7 L385.7,297.8 L385.3,299.3 L384.9,301.0 L385.6,301.7 L386.6,302.1 L387.9,303.3 L389.3,304.1 L390.6,304.3Z M354.6,292.5 L355.1,293.1 L355.9,294.5 L357.0,295.7 L358.3,296.3 L359.6,297.8 L360.7,298.9 L361.7,298.7 L362.2,297.4 L362.5,296.1 L363.6,295.1 L364.4,294.3 L364.6,293.5 L365.5,292.6 L366.5,291.3 L366.9,289.8 L366.4,288.6 L365.9,287.8 L365.1,286.4 L364.3,285.0 L363.5,284.4 L362.5,285.0 L361.2,285.5 L359.5,286.0 L358.9,286.5 L358.0,287.0 L356.5,287.7 L355.7,288.3 L355.6,289.0 L354.7,289.9 L354.1,291.5Z M385.4,332.4 L386.4,333.3 L387.1,333.7 L387.8,334.2 L388.8,334.7 L390.3,334.6 L391.5,334.4 L392.7,334.9 L394.5,335.2 L394.8,333.2 L394.7,331.2 L394.3,329.9 L394.2,329.2 L394.5,328.1 L394.9,326.7 L394.0,326.2 L393.0,326.1 L392.1,325.1 L391.3,325.1 L390.5,325.2 L389.0,325.4 L387.3,325.7 L387.0,326.3 L386.5,327.2 L385.4,328.3 L384.6,329.6 L384.4,330.9Z M328.4,244.7 L328.1,243.8 L327.7,242.1 L327.5,240.5 L327.3,239.5 L327.2,238.7 L325.5,239.4 L321.6,241.6 L317.8,243.9 L321.6,247.7 L323.9,251.5 L324.7,252.5 L324.9,251.6 L325.5,250.0 L326.7,248.4 L327.1,247.1 L327.5,246.1 L328.7,245.3Z M396.0,268.1 L396.1,269.7 L396.2,271.3 L395.6,272.7 L395.1,274.1 L395.2,275.4 L395.1,276.6 L396.2,277.0 L396.9,277.7 L397.4,279.0 L398.0,279.3 L399.0,280.2 L400.5,281.5 L402.2,281.1 L402.3,280.5 L403.1,275.9 L400.8,272.9 L399.3,268.3 L396.7,266.7Z M408.0,329.7 L409.2,329.9 L410.7,330.1 L412.5,329.9 L413.4,329.4 L413.5,328.2 L414.3,327.5 L415.2,326.8 L415.4,325.9 L415.7,324.4 L416.6,322.7 L417.3,321.1 L417.4,319.8 L417.7,319.3 L415.7,317.2 L413.9,315.8 L413.9,315.8 L412.8,315.5 L411.9,315.3 L410.4,315.5 L409.4,315.9 L408.9,316.4 L407.5,316.5 L405.8,316.7 L404.7,317.0 L403.2,317.7 L402.7,319.0 L402.5,320.4 L402.8,321.7 L402.9,322.5 L402.4,323.4 L403.2,324.4 L403.8,325.9 L404.3,326.7 L404.7,327.6 L405.4,329.2 L406.3,330.1Z M385.5,315.4 L384.9,313.9 L384.2,313.4 L383.4,312.5 L382.1,312.6 L381.2,312.7 L379.5,313.0 L378.4,313.6 L377.8,314.6 L376.4,315.6 L375.7,316.9 L375.6,318.0 L376.0,319.2 L376.6,320.0 L377.3,320.3 L378.2,321.0 L379.2,321.4 L380.8,321.6 L382.4,321.4 L383.3,321.1 L383.8,320.8 L384.5,319.8 L385.4,318.6 L385.8,317.5 L385.9,316.5Z M380.2,285.3 L381.6,284.8 L382.2,284.3 L382.9,284.2 L384.3,284.4 L385.9,284.5 L386.9,284.2 L387.1,283.7 L387.8,283.0 L388.4,282.0 L388.5,280.6 L388.6,279.0 L389.3,277.5 L388.0,277.2 L387.1,276.1 L386.4,275.1 L385.8,274.8 L384.9,273.8 L383.7,272.7 L382.3,272.5 L380.5,273.2 L379.3,274.0 L379.3,275.6 L378.7,276.9 L377.9,277.7 L377.8,278.5 L377.8,279.5 L377.2,280.7 L376.5,282.2 L377.3,283.0 L378.1,283.8 L378.7,285.4Z M346.3,364.6 L346.2,363.2 L346.5,361.3 L346.7,359.8 L346.5,359.0 L346.1,358.4 L345.9,357.2 L344.6,356.4 L343.8,356.3 L343.0,356.4 L341.9,355.8 L340.7,355.1 L339.6,355.1 L339.0,355.5 L337.6,356.0 L336.2,356.7 L336.2,356.8 L339.4,361.7 L340.3,367.9 L340.7,368.5 L341.6,368.2 L343.0,367.7 L343.8,367.2 L345.3,366.6 L346.5,365.9Z M372.0,260.9 L372.5,258.9 L372.8,257.2 L372.6,256.3 L372.2,255.6 L372.0,254.3 L372.1,252.9 L372.2,251.8 L370.2,251.8 L368.7,251.2 L367.9,250.9 L367.3,251.1 L366.1,250.9 L364.5,250.2 L363.3,250.0 L362.9,250.6 L361.6,251.2 L360.7,252.0 L360.3,253.2 L359.3,254.6 L359.7,256.6 L360.0,257.8 L360.3,258.6 L360.7,260.0 L360.9,261.1 L361.5,261.0 L362.7,261.3 L364.4,262.1 L365.9,262.4 L367.1,262.2 L368.6,262.7 L370.3,263.4 L371.4,263.4 L371.8,262.3Z M350.2,227.2 L348.6,226.8 L347.6,228.0 L346.9,229.3 L345.4,230.4 L344.7,231.2 L344.0,231.7 L342.6,232.2 L342.0,232.9 L342.3,234.8 L342.5,236.3 L342.8,237.5 L343.2,239.6 L343.7,240.9 L344.3,241.6 L344.9,243.1 L345.5,244.1 L345.9,244.8 L346.8,244.4 L348.2,244.3 L348.8,244.2 L349.6,244.0 L351.2,243.5 L352.2,242.8 L353.2,241.8 L355.1,240.7 L356.4,239.9 L357.3,239.3 L359.1,239.0 L358.3,238.3 L357.4,237.7 L356.6,236.1 L355.9,235.2 L355.4,234.2 L355.0,232.3 L354.7,231.1 L354.3,230.0 L354.0,229.1 L352.1,228.7 L350.2,227.2Z M363.5,343.1 L363.3,344.0 L362.6,344.8 L362.1,345.8 L362.2,346.9 L362.2,348.2 L363.2,348.9 L364.2,350.2 L365.0,351.9 L365.6,352.8 L366.4,352.6 L366.9,353.0 L368.0,353.2 L369.6,352.9 L371.0,352.7 L372.2,353.1 L372.1,351.4 L372.5,350.5 L372.7,350.0 L372.6,349.2 L372.3,347.8 L372.5,346.1 L373.0,344.7 L372.3,344.3 L371.6,343.1 L370.9,342.1 L370.2,341.7 L369.2,340.9 L368.1,340.8 L366.7,340.8 L364.8,341.4 L363.4,341.9Z M371.7,383.2 L371.8,385.0 L371.9,386.7 L372.2,387.7 L372.8,389.3 L373.6,390.9 L374.4,391.4 L374.5,391.6 L377.4,389.2 L381.9,385.7 L386.3,382.1 L386.6,381.7 L386.0,380.5 L385.5,379.9 L385.0,379.1 L384.3,377.7 L383.2,377.3 L381.9,376.5 L380.5,375.2 L379.2,374.9 L377.9,375.6 L377.5,376.5 L376.6,377.7 L375.3,379.0 L374.9,380.0 L374.1,380.8 L372.8,381.3 L372.3,381.8 L371.6,382.5Z M390.3,289.3 L389.8,288.0 L389.0,286.9 L388.0,285.1 L386.9,284.2 L385.9,284.5 L384.3,284.4 L382.9,284.2 L382.2,284.3 L381.6,284.8 L380.2,285.3 L378.7,285.4 L378.8,286.8 L378.7,287.9 L378.2,288.5 L377.5,288.9 L377.9,289.8 L378.2,291.1 L378.5,291.7 L379.0,292.5 L380.7,293.3 L382.6,293.6 L384.1,293.5 L385.3,294.1 L386.7,293.7 L387.9,293.4 L388.3,292.9 L389.6,292.3 L390.7,291.3Z M353.0,276.9 L354.5,277.0 L355.9,276.6 L356.9,275.9 L358.8,275.4 L359.7,274.0 L359.9,272.9 L360.1,272.2 L360.9,271.6 L360.3,270.7 L359.7,269.4 L359.3,268.7 L359.1,267.9 L358.8,266.2 L358.6,264.8 L357.5,265.4 L355.9,265.9 L354.7,266.0 L353.6,265.8 L351.7,265.8 L350.0,266.0 L349.1,266.2 L348.8,266.8 L347.8,267.5 L347.2,268.4 L347.1,269.7 L348.0,271.5 L349.1,272.7 L350.2,273.5 L351.2,275.1 L351.9,276.0 L352.3,276.6Z M364.3,378.9 L364.2,378.4 L364.0,377.3 L363.7,376.1 L363.4,375.4 L362.4,375.1 L361.0,373.9 L359.4,373.5 L357.8,373.1 L356.6,371.9 L355.7,371.5 L355.1,371.1 L354.6,371.1 L353.6,371.1 L352.6,372.1 L352.1,373.0 L351.9,374.1 L350.9,375.3 L350.1,376.7 L350.1,377.4 L354.6,380.3 L358.1,384.8 L358.6,385.2 L358.6,385.2 L359.6,384.8 L360.1,384.2 L361.5,383.3 L362.3,382.2 L362.9,381.0 L364.4,380.0Z M396.6,350.0 L398.2,350.0 L399.1,350.2 L400.4,350.3 L402.0,350.1 L402.7,349.5 L403.0,348.1 L404.0,346.5 L404.7,345.1 L404.9,343.9 L404.5,342.9 L404.0,342.5 L403.2,341.3 L402.4,339.9 L401.6,339.2 L400.9,337.8 L399.6,337.2 L398.9,337.2 L398.5,337.4 L397.6,337.2 L396.2,336.6 L395.4,337.7 L395.2,338.5 L394.5,339.3 L393.4,340.2 L393.0,341.4 L392.6,342.7 L391.6,343.9 L392.2,344.9 L392.6,346.6 L392.9,347.5 L393.2,348.2 L393.9,349.7 L394.7,350.3Z M376.6,327.6 L374.6,328.1 L373.3,328.6 L372.3,328.8 L371.4,329.4 L370.6,330.1 L370.5,331.1 L371.2,332.3 L371.9,334.0 L372.6,335.2 L373.2,336.0 L374.4,336.3 L375.0,336.7 L376.0,336.6 L377.3,336.2 L377.9,334.7 L378.2,333.6 L379.4,332.9 L380.1,332.2 L380.4,331.3 L379.8,330.0 L379.3,329.3 L378.8,328.7 L377.9,327.3Z M355.3,331.2 L354.3,331.9 L353.7,333.0 L353.6,334.3 L353.0,335.8 L352.8,336.9 L352.6,337.6 L354.0,337.7 L355.3,338.6 L356.5,338.8 L358.0,338.7 L359.9,339.5 L361.5,340.0 L362.3,339.8 L362.9,340.4 L363.2,338.4 L364.0,337.2 L364.4,336.4 L364.4,335.3 L364.6,333.9 L365.2,332.5 L364.4,332.0 L363.3,330.6 L361.4,330.5 L360.2,330.8 L359.0,331.2 L357.4,331.2 L356.3,330.8 L355.8,330.6Z M375.3,298.9 L374.0,298.2 L373.1,297.9 L372.3,298.1 L371.5,298.8 L370.2,299.8 L369.6,301.0 L370.3,301.9 L370.7,303.5 L371.0,305.0 L371.1,305.6 L371.2,306.4 L371.4,307.7 L372.7,308.0 L373.8,307.8 L374.7,307.4 L376.4,306.8 L377.6,306.1 L378.3,305.3 L378.5,303.9 L379.0,302.9 L379.3,302.2 L378.2,301.0 L377.2,299.7 L376.4,299.2Z M341.2,232.8 L339.7,232.8 L337.8,232.1 L336.3,231.7 L335.1,231.8 L333.9,233.0 L332.5,234.2 L332.1,235.2 L331.1,235.9 L329.8,236.4 L329.5,236.7 L329.3,237.8 L327.2,238.7 L327.3,239.5 L327.5,240.5 L327.7,242.1 L328.1,243.8 L328.4,244.7 L328.7,245.3 L330.4,246.0 L331.7,246.6 L332.9,246.5 L334.3,246.7 L335.5,247.5 L336.2,247.7 L337.0,247.5 L338.6,248.0 L340.7,248.6 L342.3,248.4 L343.3,248.4 L344.2,249.1 L345.1,247.4 L345.8,245.9 L345.9,244.8 L345.5,244.1 L344.9,243.1 L344.3,241.6 L343.7,240.9 L343.2,239.6 L342.8,237.5 L342.5,236.3 L342.3,234.8 L342.0,232.9Z M416.8,347.7 L416.3,347.1 L415.9,346.4 L415.4,344.9 L414.8,343.9 L414.0,343.1 L412.8,343.3 L411.4,343.4 L409.4,343.5 L408.1,343.9 L407.4,344.3 L406.1,344.2 L404.9,343.9 L404.7,345.1 L404.0,346.5 L403.0,348.1 L402.7,349.5 L403.0,350.3 L403.5,351.9 L404.2,352.7 L405.2,353.3 L406.3,354.6 L407.3,355.4 L408.3,355.2 L409.5,355.6 L410.8,356.2 L411.6,356.4 L412.2,356.2 L413.5,356.3 L415.3,356.8 L415.8,355.2 L415.8,353.4 L416.4,351.8 L417.2,350.7 L417.3,350.0 L417.6,349.1Z M390.0,307.8 L390.5,308.6 L391.0,310.2 L391.7,311.2 L392.6,312.1 L393.8,313.8 L395.0,314.7 L397.0,314.3 L398.1,314.2 L398.8,314.4 L400.0,314.1 L400.7,312.6 L400.9,311.0 L400.9,309.8 L401.5,309.1 L402.2,308.2 L402.2,306.5 L401.3,305.4 L400.0,305.0 L398.4,304.6 L397.0,303.4 L395.8,302.8 L395.0,302.5 L394.5,301.5 L394.0,302.5 L392.5,303.3 L391.3,303.9 L390.6,304.3 L390.2,305.0 L389.6,305.9 L389.2,307.0Z M349.9,341.6 L350.9,340.4 L351.8,339.5 L351.9,338.7 L352.6,337.6 L352.8,336.9 L353.0,335.8 L351.8,334.7 L350.4,334.3 L349.1,334.0 L347.8,333.0 L346.7,332.3 L345.7,332.2 L344.7,331.3 L343.7,330.4 L342.6,330.3 L342.3,331.7 L341.7,332.9 L340.5,333.8 L340.0,334.5 L339.6,335.2 L338.5,336.2 L337.7,337.6 L337.5,339.2 L336.4,340.8 L335.4,342.0 L335.6,342.4 L336.9,342.2 L338.3,342.1 L339.2,342.7 L339.9,342.9 L341.3,342.6 L343.2,342.5 L344.9,342.9 L346.0,343.0 L347.4,342.6 L348.9,342.6 L349.8,343.1Z M369.4,322.6 L369.8,321.4 L370.8,320.3 L372.0,319.5 L372.5,318.9 L373.1,318.4 L372.3,317.7 L371.3,316.6 L370.2,316.2 L369.1,315.8 L368.2,314.6 L367.2,314.6 L365.6,314.9 L364.7,315.2 L364.6,315.8 L363.9,316.6 L363.0,318.0 L362.8,319.9 L362.7,321.7 L363.2,322.4 L363.9,322.6 L364.8,323.4 L365.6,323.8 L366.8,323.9 L368.3,323.7Z M371.4,327.4 L370.7,326.6 L370.2,326.0 L369.4,324.4 L368.3,323.7 L366.8,323.9 L365.6,323.8 L364.8,323.4 L364.7,324.7 L364.1,325.7 L363.7,326.4 L363.8,327.2 L363.8,328.7 L363.3,330.6 L364.4,332.0 L365.2,332.5 L366.4,332.2 L366.9,332.2 L367.8,332.1 L369.3,331.7 L370.5,331.1 L370.6,330.1 L371.4,329.4 L372.3,328.8Z M313.8,326.5 L313.9,325.3 L313.9,324.6 L314.5,323.9 L315.3,322.8 L315.5,321.5 L315.5,320.1 L314.8,320.2 L313.4,319.6 L311.4,318.8 L309.4,318.9 L308.2,318.5 L308.0,318.2 L307.4,321.7 L303.9,326.1 L304.5,330.2 L305.8,330.3 L307.4,330.5 L308.4,330.5 L310.1,330.0 L311.2,329.3 L311.8,328.7 L313.3,328.2Z M317.0,291.3 L314.9,291.5 L313.7,291.4 L312.4,291.3 L310.7,291.5 L309.9,292.1 L309.0,292.7 L307.5,293.3 L306.7,293.8 L307.9,297.2 L308.3,302.1 L308.2,302.5 L309.2,302.8 L311.0,302.8 L312.5,303.6 L313.5,304.4 L314.0,304.4 L314.7,304.9 L315.9,305.8 L317.5,305.3 L318.5,304.9 L319.3,304.6 L321.0,304.0 L321.3,303.0 L321.1,301.2 L321.2,299.3 L321.8,297.7 L322.2,296.8 L322.0,296.2 L322.1,295.3 L322.7,293.9 L321.6,293.1 L320.7,292.9 L320.1,291.9 L319.4,290.9 L318.4,290.6Z M430.4,339.6 L430.3,340.9 L429.7,342.1 L428.8,343.2 L428.4,344.2 L428.3,345.3 L427.5,346.4 L426.7,347.6 L427.1,348.8 L427.7,350.6 L428.6,351.5 L429.6,352.5 L430.5,353.8 L430.8,353.7 L434.3,349.2 L437.0,343.9 L439.2,340.2 L439.1,340.2 L437.2,339.4 L435.4,339.3 L434.1,339.3 L433.2,338.6 L432.1,338.1 L430.9,338.3Z M314.9,278.7 L315.7,279.0 L316.2,280.2 L316.9,280.8 L318.5,279.9 L319.6,278.9 L320.6,278.0 L322.6,277.4 L324.0,277.1 L325.1,277.0 L325.6,275.7 L326.0,274.5 L325.8,273.4 L325.6,272.1 L326.0,270.3 L326.5,268.4 L326.4,267.1 L326.3,266.7 L326.2,266.8 L321.6,269.8 L317.8,272.9 L315.6,278.2 L314.4,278.5Z M359.9,361.0 L360.9,360.8 L361.5,359.2 L361.7,357.7 L362.7,356.5 L363.6,355.6 L363.8,354.9 L364.5,353.9 L365.6,352.8 L365.0,351.9 L364.2,350.2 L363.2,348.9 L362.2,348.2 L360.3,348.2 L358.8,348.1 L358.2,348.4 L357.2,349.1 L355.7,349.5 L354.6,349.3 L353.4,349.2 L351.4,349.4 L350.8,350.0 L350.9,350.8 L350.6,352.0 L349.8,353.5 L349.4,355.1 L350.7,355.4 L352.0,356.3 L353.0,357.5 L354.0,357.7 L355.0,358.8 L356.2,359.8 L357.6,360.0 L358.9,361.1Z M383.7,272.7 L384.9,273.8 L385.8,274.8 L386.4,275.1 L387.1,276.1 L388.0,277.2 L389.3,277.5 L390.9,277.0 L391.9,276.7 L393.3,276.6 L395.1,276.6 L395.2,275.4 L395.1,274.1 L395.6,272.7 L396.2,271.3 L396.1,269.7 L396.0,268.1 L396.7,266.7 L396.6,266.7 L395.0,266.3 L393.8,266.0 L393.1,264.9 L392.6,264.5 L391.8,264.2 L390.5,263.2 L388.7,262.6 L387.0,262.5 L385.6,261.4 L385.2,261.9 L384.2,262.5 L383.5,264.1 L383.2,265.7 L383.3,267.1 L383.1,268.2 L382.5,269.2 L382.1,270.4 L382.3,271.5 L382.3,272.5Z M365.6,283.5 L366.4,282.9 L367.8,282.0 L369.4,280.9 L369.2,279.6 L368.9,278.0 L369.1,276.4 L369.5,275.3 L369.6,274.8 L369.3,274.1 L369.2,272.7 L369.5,270.9 L368.1,271.1 L367.5,271.7 L366.6,271.9 L365.1,271.7 L363.9,271.3 L362.8,271.4 L360.9,271.6 L360.1,272.2 L359.9,272.9 L359.7,274.0 L358.8,275.4 L359.8,277.1 L360.6,278.2 L361.2,278.9 L361.6,280.3 L362.0,281.4 L362.4,281.7 L363.0,282.8 L363.9,283.9Z M340.5,273.0 L340.2,274.4 L339.4,275.8 L339.1,277.2 L339.2,278.9 L338.7,280.6 L337.9,281.8 L337.6,282.5 L338.0,282.8 L338.8,283.9 L339.8,284.7 L341.8,284.3 L343.2,284.0 L344.2,283.9 L345.9,284.0 L347.3,284.0 L347.8,283.7 L348.9,283.1 L350.2,282.3 L350.5,281.0 L350.6,279.8 L351.3,278.7 L352.1,277.6 L352.3,276.6 L351.9,276.0 L351.2,275.1 L350.2,273.5 L349.1,272.7 L348.0,271.5 L347.1,269.7 L346.0,270.4 L344.5,271.2 L343.8,271.8 L343.2,272.0 L341.6,271.9 L340.3,271.8Z M321.9,351.7 L321.8,352.8 L324.3,352.8 L330.6,353.7 L335.9,356.3 L336.2,356.8 L336.2,356.7 L337.6,356.0 L339.0,355.5 L339.6,355.1 L338.9,354.3 L338.2,352.5 L337.6,351.2 L337.1,350.0 L336.9,348.0 L336.8,346.5 L336.7,345.7 L336.5,344.4 L336.1,343.2 L335.6,342.7 L334.8,343.1 L333.0,343.5 L331.9,344.1 L331.0,344.8 L329.2,345.7 L328.0,346.7 L327.3,347.6 L325.7,348.2 L324.7,348.6 L324.1,348.9 L322.7,349.3 L321.8,350.0Z M383.0,309.8 L381.9,309.2 L381.0,307.9 L380.2,307.2 L379.3,306.7 L378.3,305.3 L377.6,306.1 L376.4,306.8 L374.7,307.4 L373.8,307.8 L374.7,308.8 L375.5,310.3 L376.1,311.0 L376.4,312.3 L376.5,314.3 L376.4,315.6 L377.8,314.6 L378.4,313.6 L379.5,313.0 L381.2,312.7 L382.1,312.6 L383.4,312.5 L383.9,311.5 L384.3,310.3Z M400.5,281.5 L400.1,282.8 L399.8,284.1 L398.7,285.4 L398.1,286.5 L397.9,287.3 L397.0,288.3 L396.1,289.5 L395.9,291.0 L395.3,292.6 L396.0,293.1 L397.7,293.2 L398.6,293.9 L399.4,294.0 L400.7,293.8 L402.1,294.3 L403.2,294.8 L404.6,294.6 L405.6,294.6 L405.4,294.2 L404.6,289.6 L401.5,285.0 L402.2,281.1Z M331.2,282.2 L329.9,280.8 L328.9,280.0 L328.1,279.5 L327.3,278.1 L326.4,277.5 L325.1,277.0 L324.0,277.1 L322.6,277.4 L320.6,278.0 L319.6,278.9 L318.5,279.9 L316.9,280.8 L316.9,281.5 L317.2,282.6 L317.5,283.9 L317.6,284.8 L317.5,285.6 L317.6,287.1 L317.9,289.1 L318.4,290.6 L319.4,290.9 L320.1,291.9 L320.7,292.9 L321.6,293.1 L322.7,293.9 L324.0,293.9 L324.8,293.7 L325.6,293.2 L326.7,291.8 L327.6,290.4 L327.9,289.3 L328.6,288.4 L329.8,287.6 L330.2,286.7 L330.6,285.5 L331.7,284.1 L332.5,282.8Z M402.5,363.1 L400.8,362.5 L398.7,362.5 L397.4,362.8 L396.7,362.7 L395.4,362.3 L394.1,362.3 L393.3,362.8 L393.1,363.8 L392.5,364.8 L391.6,365.7 L392.0,367.1 L392.2,368.5 L392.5,368.9 L392.9,370.0 L393.6,371.3 L394.5,371.9 L395.2,372.6 L399.7,369.7 L405.0,367.0 L405.4,366.3 L405.1,366.0 L404.7,364.7 L404.2,363.8 L403.5,363.5Z M402.0,336.1 L402.3,334.6 L402.9,333.4 L404.2,332.6 L404.7,332.0 L405.1,331.2 L406.3,330.1 L405.4,329.2 L404.7,327.6 L404.3,326.7 L403.8,325.9 L403.2,324.4 L402.4,323.4 L400.9,324.1 L400.0,324.9 L398.5,325.7 L396.7,326.2 L395.8,326.5 L394.9,326.7 L394.5,328.1 L394.2,329.2 L394.3,329.9 L394.7,331.2 L394.8,333.2 L394.5,335.2 L395.4,335.7 L396.2,336.6 L397.6,337.2 L398.5,337.4 L398.9,337.2 L399.6,337.2 L400.9,337.8Z M358.8,263.5 L359.5,262.5 L360.6,261.7 L360.9,261.1 L360.7,260.0 L360.3,258.6 L360.0,257.8 L359.7,256.6 L359.3,254.6 L357.3,254.6 L356.1,254.9 L355.3,254.9 L354.1,254.4 L352.8,254.3 L351.9,254.6 L351.0,254.3 L349.4,253.7 L347.3,253.5 L345.8,253.7 L344.9,253.4 L344.8,253.9 L345.3,254.6 L345.8,255.3 L346.4,257.0 L347.0,258.4 L347.5,259.4 L347.9,261.4 L348.1,262.9 L348.4,263.7 L348.7,265.0 L349.1,266.2 L350.0,266.0 L351.7,265.8 L353.6,265.8 L354.7,266.0 L355.9,265.9 L357.5,265.4 L358.6,264.8Z M350.2,227.2 L350.2,227.2 L348.3,225.7 L350.6,223.4 L351.3,218.8 L348.3,217.3 L346.0,220.3 L343.3,219.8 L343.4,220.0 L344.6,220.6 L345.6,222.1 L346.5,222.8 L347.0,223.5 L347.4,225.0 L347.9,225.7 L348.6,226.8Z M377.2,280.7 L377.8,279.5 L377.8,278.5 L377.9,277.7 L378.7,276.9 L379.3,275.6 L379.3,274.0 L378.5,273.2 L377.7,272.9 L376.5,273.0 L375.2,272.4 L374.0,271.8 L372.8,271.9 L371.3,271.6 L369.6,270.8 L369.5,270.9 L369.2,272.7 L369.3,274.1 L369.6,274.8 L369.5,275.3 L369.1,276.4 L368.9,278.0 L369.2,279.6 L369.4,280.9 L370.6,280.8 L371.5,281.4 L372.9,281.6 L374.1,281.3 L375.1,281.6 L376.5,282.2Z M386.0,260.3 L386.6,259.4 L386.1,258.4 L385.6,256.7 L384.9,255.9 L383.8,254.7 L382.6,253.0 L381.4,252.3 L380.4,251.1 L379.7,249.7 L379.1,249.3 L378.6,248.2 L377.9,247.0 L376.8,247.5 L376.0,248.3 L374.3,249.3 L373.2,250.5 L372.2,251.8 L372.1,252.9 L372.0,254.3 L372.2,255.6 L372.6,256.3 L372.8,257.2 L372.5,258.9 L372.0,260.9 L371.8,262.3 L372.9,262.0 L374.5,262.4 L375.9,262.6 L377.2,262.2 L379.3,262.0 L381.1,262.5 L382.0,262.6 L382.8,262.3 L384.2,262.5 L385.2,261.9 L385.6,261.4Z M374.8,358.1 L374.4,359.3 L373.2,360.1 L372.5,360.7 L372.2,361.3 L371.1,362.3 L370.2,363.5 L370.0,364.9 L369.0,366.2 L368.9,367.0 L369.9,368.1 L370.8,368.3 L371.7,368.8 L372.7,369.9 L373.9,370.3 L375.4,370.5 L376.8,371.6 L378.0,372.2 L378.9,372.3 L379.6,373.3 L379.8,372.5 L380.6,371.3 L381.7,370.0 L382.1,368.6 L382.4,367.4 L381.9,366.7 L381.6,365.5 L381.2,364.2 L380.6,363.8 L379.8,362.6 L378.7,361.4 L377.7,360.7 L376.9,359.1 L376.4,357.6 L376.1,356.7 L375.3,356.6Z M385.3,299.3 L385.7,297.8 L385.7,296.7 L385.5,295.5 L385.3,294.1 L384.1,293.5 L382.6,293.6 L380.7,293.3 L379.0,292.5 L378.7,294.0 L378.3,295.8 L377.3,297.4 L376.6,298.5 L376.4,299.2 L377.2,299.7 L378.2,301.0 L379.3,302.2 L380.4,301.6 L381.7,301.2 L383.3,301.1 L384.0,301.1 L384.9,301.0Z M385.6,343.3 L387.1,343.1 L388.5,343.3 L389.8,343.9 L391.6,343.9 L392.6,342.7 L393.0,341.4 L393.4,340.2 L394.5,339.3 L395.2,338.5 L395.4,337.7 L396.2,336.6 L395.4,335.7 L394.5,335.2 L392.7,334.9 L391.5,334.4 L390.3,334.6 L388.8,334.7 L387.8,334.2 L387.1,333.7 L386.9,334.7 L386.2,335.9 L385.7,337.1 L385.7,338.3 L385.5,339.6 L384.9,341.3 L384.2,342.9Z M330.8,309.5 L330.2,310.4 L329.7,311.1 L329.8,312.3 L329.8,314.2 L329.2,316.2 L328.5,317.6 L328.3,318.4 L328.3,319.1 L328.8,320.3 L329.4,321.0 L330.3,321.3 L331.3,321.6 L332.9,321.2 L334.2,320.8 L335.0,320.1 L336.6,319.2 L337.8,318.1 L338.4,316.9 L339.9,316.0 L340.9,315.4 L341.4,315.0 L342.8,314.5 L343.0,313.2 L343.0,311.6 L342.0,311.3 L340.6,310.7 L338.8,309.5 L337.1,309.2 L335.9,308.6 L335.2,307.4 L334.7,307.1 L333.9,306.5 L332.7,307.2 L331.4,307.8 L330.7,308.2Z M364.1,374.5 L365.2,373.3 L365.6,372.0 L366.0,370.6 L367.1,369.6 L367.9,368.7 L368.1,367.9 L368.9,367.0 L369.0,366.2 L367.8,365.9 L366.3,365.2 L364.9,364.0 L363.8,363.6 L362.9,363.1 L362.3,361.8 L361.7,361.2 L360.9,360.8 L359.9,361.0 L358.9,361.1 L358.8,362.7 L358.5,363.6 L357.6,364.2 L357.0,364.9 L356.9,366.0 L356.4,367.6 L355.4,369.4 L355.1,371.1 L355.7,371.5 L356.6,371.9 L357.8,373.1 L359.4,373.5 L361.0,373.9 L362.4,375.1 L363.4,375.4Z M389.0,325.4 L390.5,325.2 L391.3,325.1 L392.1,325.1 L392.3,323.6 L392.6,322.4 L392.6,321.1 L392.2,319.3 L391.7,317.8 L391.5,317.0 L390.1,317.2 L389.2,316.9 L388.2,316.4 L386.9,316.2 L385.9,316.5 L385.8,317.5 L385.4,318.6 L384.5,319.8 L383.8,320.8 L384.2,322.3 L384.7,323.2 L385.3,323.6 L386.2,324.9 L387.3,325.7Z M352.2,370.3 L350.6,370.1 L349.2,369.1 L348.2,368.1 L347.5,367.9 L347.1,367.0 L346.5,365.9 L345.3,366.6 L343.8,367.2 L343.0,367.7 L341.6,368.2 L340.7,368.5 L343.9,373.2 L349.2,376.8 L350.1,377.4 L350.1,376.7 L350.9,375.3 L351.9,374.1 L352.1,373.0 L352.6,372.1 L353.6,371.1Z M406.9,356.1 L405.9,357.4 L405.4,359.1 L405.2,360.9 L404.3,362.5 L403.5,363.5 L404.2,363.8 L404.7,364.7 L405.1,366.0 L405.4,366.3 L406.8,363.4 L412.1,360.8 L417.2,358.6 L417.0,358.3 L416.2,357.9 L415.3,356.8 L413.5,356.3 L412.2,356.2 L411.6,356.4 L410.8,356.2 L409.5,355.6 L408.3,355.2 L407.3,355.4Z M365.6,314.9 L367.2,314.6 L368.2,314.6 L368.3,313.2 L368.9,311.8 L369.6,310.5 L369.8,309.3 L369.8,308.1 L369.2,307.6 L368.5,307.5 L367.1,307.9 L365.6,307.9 L364.5,307.5 L363.0,307.5 L361.6,308.8 L360.8,310.1 L361.9,311.5 L362.9,312.6 L363.7,313.0 L364.3,314.1 L364.7,315.2Z M324.8,293.7 L324.0,293.9 L322.7,293.9 L322.1,295.3 L322.0,296.2 L322.2,296.8 L321.8,297.7 L321.2,299.3 L321.1,301.2 L321.3,303.0 L321.0,304.0 L322.6,304.2 L323.7,305.1 L324.3,305.8 L325.0,305.8 L326.2,306.7 L327.7,307.5 L329.3,307.5 L330.7,308.2 L331.4,307.8 L332.7,307.2 L333.9,306.5 L334.0,304.6 L334.1,302.9 L334.8,301.9 L335.3,301.3 L335.3,300.7 L335.4,299.5 L333.8,298.2 L332.5,297.9 L331.6,297.1 L330.9,295.9 L330.0,295.6 L328.8,294.6 L327.3,293.5 L325.6,293.2Z M369.6,270.8 L370.1,269.1 L370.1,267.9 L370.0,266.7 L370.3,265.3 L371.0,264.2 L371.4,263.4 L370.3,263.4 L368.6,262.7 L367.1,262.2 L365.9,262.4 L364.4,262.1 L362.7,261.3 L361.5,261.0 L360.9,261.1 L360.6,261.7 L359.5,262.5 L358.8,263.5 L358.6,264.8 L358.8,266.2 L359.1,267.9 L359.3,268.7 L359.7,269.4 L360.3,270.7 L360.9,271.6 L362.8,271.4 L363.9,271.3 L365.1,271.7 L366.6,271.9 L367.5,271.7 L368.1,271.1 L369.5,270.9Z" fill="#fbd5d5"/></g>
<path d="M333.1,238.6 L334.6,242.4 L335.4,245.5 L332.3,247.7 L327.7,247.0 L322.4,247.0 L322.4,249.3 L325.5,253.1 L328.5,257.6 L330.8,262.2 L332.3,260.7 L335.4,253.8 L338.4,251.5 L343.0,252.3 L345.3,247.7 L346.8,243.9 L349.1,239.4 L347.5,235.6 L350.6,233.3 L352.9,230.2 L348.3,228.7 L346.0,225.7 L340.7,227.9 L336.9,231.8 L330.8,234.0Z" fill="#f18f8f"/>
<path d="M355.1,267.5 L353.6,270.6 L351.3,272.1 L348.3,270.6 L346.0,272.1 L346.8,275.1 L346.0,279.0 L347.5,283.5 L348.3,288.1 L347.5,292.7 L344.5,295.7 L342.2,297.2 L340.7,298.8 L338.4,298.0 L336.1,297.2 L333.8,299.5 L333.1,301.8 L335.4,303.3 L337.6,301.0 L339.9,299.5 L342.2,298.8 L344.5,298.0 L345.3,298.0 L347.5,298.8 L348.3,301.0 L349.8,302.6 L351.3,299.5 L353.6,300.3 L356.7,300.3 L355.9,298.0 L358.2,295.7 L360.5,291.9 L364.3,292.7 L365.8,289.6 L368.1,286.6 L370.4,282.8 L371.1,277.4 L368.9,275.9 L366.6,273.6 L362.0,272.1 L362.8,268.3 L360.5,267.5 L356.7,265.3Z" fill="#e52222"/>
<path d="M364.3,237.8 L362.0,242.4 L359.7,247.0 L357.4,251.5 L355.2,256.1 L354.4,259.9 L357.4,263.7 L362.0,266.8 L366.6,269.1 L371.1,273.5 L375.7,275.1 L379.5,272.1 L382.5,269.1 L385.6,266.0 L386.3,261.4 L384.0,256.9 L382.5,252.3 L380.2,247.7 L377.2,244.7 L373.4,240.9 L369.6,237.8 L366.6,234.0Z" fill="#f7b4b4"/>
<path d="M319.9,311.0 L323.4,311.9 L329.7,312.8 L335.0,311.9 L338.6,307.4 L336.8,304.8 L330.6,307.4 L326.1,305.7 L319.9,307.4Z" fill="#f7b4b4"/>
<path d="M397.9,301.2 L391.7,300.3 L389.9,303.0 L387.2,307.4 L382.8,310.1 L379.2,311.9 L384.6,315.4 L389.9,316.3 L396.1,315.4 L401.4,313.7 L406.8,312.8 L411.2,313.7 L406.8,307.4 L408.6,302.1 L406.8,297.7 L398.8,295.9Z" fill="#ec6262"/>
<path d="M377.4,340.3 L380.1,344.8 L381.9,350.1 L385.4,354.6 L389.9,355.4 L394.3,351.9 L397.9,346.6 L397.0,341.2 L399.7,335.9 L400.6,330.6 L394.3,331.4 L388.1,329.7 L381.0,333.2 L373.9,335.0Z" fill="#f7b4b4"/>
<path d="M373.9,362.6 L374.8,367.9 L377.4,372.3 L382.8,371.4 L388.1,373.2 L392.6,373.2 L393.4,369.7 L389.9,366.1 L387.2,361.7 L385.4,357.2 L381.9,353.7 L377.4,354.6 L372.1,357.2Z" fill="#f18f8f"/>
<path d="M417.4,335.0 L421.9,336.8 L426.3,339.4 L430.8,343.9 L434.3,348.3 L437.0,343.9 L439.7,339.4 L444.1,336.8 L445.0,330.6 L444.1,326.1 L440.6,327.9 L435.2,327.9 L431.7,325.2 L428.1,323.4 L427.2,328.8 L423.7,330.6 L418.3,329.7 L414.8,331.4Z" fill="#f7b4b4"/>
</g>
<g transform="translate(282,0)" stroke="#fff" stroke-width="0.95" stroke-linejoin="round" filter="url(#mblur)">
<use href="#umbriaBase"/>
<path d="M327.7,227.9 L330.0,234.0 L330.0,237.8 L333.1,239.4 L334.6,243.9 L333.8,247.7 L327.7,247.7 L322.4,249.3 L325.5,253.1 L328.5,257.6 L330.8,262.2 L332.3,260.7 L335.4,253.8 L338.4,251.5 L343.0,252.3 L345.3,247.7 L346.8,243.9 L349.1,239.4 L347.5,235.6 L350.6,233.3 L352.9,230.2 L352.1,228.7 L348.3,225.7 L350.6,223.4 L351.3,218.8 L348.3,217.3 L346.0,220.3 L342.2,219.6 L336.9,218.0 L332.3,220.3 L330.8,224.9Z" fill="#f7b4b4"/>
<path d="M351.3,234.8 L349.8,237.8 L348.3,240.9 L350.6,243.2 L353.6,241.6 L355.9,243.2 L359.0,241.6 L362.0,242.4 L364.3,237.8 L366.6,233.3 L362.8,230.2 L359.0,227.9 L355.9,229.5 L352.9,230.2Z" fill="#f7b4b4"/>
<path d="M364.3,237.8 L362.0,242.4 L359.7,247.0 L357.4,251.5 L355.2,256.1 L354.4,259.9 L357.4,263.7 L362.0,266.8 L366.6,269.1 L371.1,273.5 L375.7,275.1 L379.5,272.1 L382.5,269.1 L385.6,266.0 L386.3,261.4 L384.0,256.9 L382.5,252.3 L380.2,247.7 L377.2,244.7 L373.4,240.9 L369.6,237.8 L366.6,234.0Z" fill="#f7b4b4"/>
<path d="M324.8,232.4 L324.8,232.4 L324.9,232.5 L325.0,232.5 L325.0,232.6 L327.6,233.9 L329.2,231.8 L328.7,229.3 L326.2,228.0 L323.7,229.3Z" fill="#ee7474"/>
<path d="M321.5,245.4 L324.9,245.4 L328.3,247.1 L330.8,246.2 L333.4,247.1 L334.2,244.5 L333.8,241.2 L332.1,239.0 L329.2,239.9 L326.2,238.6 L324.1,241.2 L320.7,242.8 L317.3,244.8 L318.3,245.8Z" fill="#ee7474"/>
<path d="M342.2,282.8 L341.4,286.6 L342.2,291.1 L344.5,293.4 L346.0,291.1 L345.3,286.6 L346.0,282.0 L344.5,277.4 L342.2,278.2Z" fill="#f18f8f"/>
<path d="M398.5,276.7 L396.2,279.7 L391.6,281.2 L387.8,283.5 L390.1,286.6 L391.6,291.1 L395.5,292.7 L397.7,297.2 L393.2,300.3 L389.4,304.8 L406.1,304.8 L407.6,300.3 L406.1,298.0 L405.4,294.2 L404.6,289.6 L401.5,285.0 L402.3,280.5 L403.1,275.9 L400.8,275.1Z" fill="#f7b4b4"/>
<path d="M319.9,311.0 L323.4,311.9 L329.7,312.8 L335.0,311.9 L338.6,307.4 L336.8,304.8 L330.6,307.4 L326.1,305.7 L319.9,307.4Z" fill="#ec6262"/>
<path d="M333.2,320.8 L332.3,325.2 L328.8,329.7 L333.2,330.6 L338.6,331.4 L342.1,333.2 L344.8,327.0 L345.7,321.7 L342.1,316.3 L333.2,316.3Z" fill="#f7b4b4"/>
<path d="M318.1,331.4 L321.7,334.1 L323.4,328.8 L320.8,324.3 L316.3,327.0Z" fill="#f7b4b4"/>
<path d="M316.3,319.9 L319.0,319.0 L318.1,315.4 L315.4,317.2Z" fill="#f7b4b4"/>
<path d="M308.3,349.2 L312.8,351.9 L314.6,347.4 L310.1,343.9 L306.6,346.6Z" fill="#f18f8f"/>
<path d="M364.3,359.9 L368.8,356.3 L365.2,351.9 L360.8,355.4Z" fill="#f7b4b4"/>
<path d="M348.3,375.9 L349.2,373.2 L346.6,374.1Z" fill="#f18f8f"/>
<path d="M397.9,301.2 L391.7,300.3 L389.9,303.0 L387.2,307.4 L382.8,310.1 L379.2,311.9 L384.6,315.4 L389.9,316.3 L396.1,315.4 L401.4,313.7 L406.8,312.8 L411.2,313.7 L406.8,307.4 L408.6,302.1 L406.8,297.7 L398.8,295.9Z" fill="#f7b4b4"/>
<path d="M400.6,319.9 L404.1,322.6 L409.4,323.4 L413.9,321.7 L415.7,318.1 L412.1,315.4 L405.9,315.4 L399.7,316.3Z" fill="#f18f8f"/>
<path d="M375.7,321.7 L377.4,324.3 L381.9,326.1 L385.4,324.3 L385.4,319.9 L381.9,317.2 L376.6,319.0Z" fill="#f7b4b4"/>
<path d="M377.4,340.3 L380.1,344.8 L381.9,350.1 L385.4,354.6 L389.9,355.4 L394.3,351.9 L397.9,346.6 L397.0,341.2 L399.7,335.9 L400.6,330.6 L394.3,331.4 L388.1,329.7 L381.0,333.2 L373.9,335.0Z" fill="#f7b4b4"/>
<path d="M415.7,332.3 L418.3,335.0 L421.9,339.4 L425.4,338.6 L429.0,342.1 L432.6,346.6 L435.0,349.9 L435.1,349.8 L435.1,349.7 L435.2,349.7 L435.5,349.1 L437.0,343.0 L439.7,338.6 L443.2,336.8 L444.1,330.6 L443.2,326.1 L441.4,327.9 L437.9,328.8 L433.4,327.9 L430.8,324.3 L428.1,323.4 L427.2,329.7 L423.7,330.6 L418.3,328.8 L414.8,329.7Z" fill="#e52222"/>
<path d="M397.0,351.0 L400.6,351.9 L405.9,352.8 L405.0,350.1 L400.6,345.7 L397.0,348.3Z" fill="#f18f8f"/>
<path d="M396.1,360.8 L401.4,362.6 L405.9,359.0 L405.0,354.6 L398.8,353.7 L394.3,356.3Z" fill="#f7b4b4"/>
</g>
<path d="M507.2,117.3 C513.4,118.9 529.2,122.9 541.6,126.5 C554.0,130.1 563.6,135.1 576.0,137.3 C588.4,139.5 598.0,138.0 610.4,138.7 C622.8,139.3 632.5,140.3 644.8,141.1 C657.2,141.8 666.9,143.0 679.2,143.1 C691.6,143.2 701.3,139.2 713.7,141.7 C726.0,144.2 741.9,154.2 748.1,157.0" fill="none" stroke="#88c04a" stroke-width="1.9" stroke-linecap="round"/>
<circle cx="276.9" cy="420.7" r="5.9" fill="#fbd5d5"/>
<circle cx="336.3" cy="420.7" r="5.9" fill="#f7b4b4"/>
<circle cx="413.1" cy="420.7" r="5.9" fill="#f18f8f"/>
<circle cx="330" cy="440" r="5.9" fill="#ec6262"/>
<circle cx="377.4" cy="440" r="5.9" fill="#e52222"/>
<circle cx="574.6" cy="420.7" r="5.9" fill="#fbd5d5"/>
<circle cx="654.7" cy="420.7" r="5.9" fill="#f7b4b4"/>
<circle cx="548.2" cy="440" r="5.9" fill="#f18f8f"/>
<circle cx="650.6" cy="440" r="5.9" fill="#ec6262"/>
<circle cx="710.7" cy="440" r="5.9" fill="#e52222"/>
<rect x="214" y="184" width="15" height="147" fill="#f1f1f1"/>
<path d="M218.2,194 L224.6,194 L221.4,190.6Z M218.2,322.3 L224.6,322.3 L221.4,325.8Z" fill="#8a8a8a"/>
<line x1="124.8" y1="184.6" x2="94.7" y2="246.8" stroke="#dcdcdc" stroke-width="1"/>
<g fill="#c4373b"><rect x="124.9" y="210.6" width="2.6" height="21"/><rect x="128.3" y="210.6" width="1.8" height="21"/><rect x="131.4" y="210.6" width="1.8" height="21"/><rect x="134.1" y="210.6" width="2.6" height="21"/></g>
<g stroke="#fff" stroke-width="0.5"><line x1="124" y1="215.5" x2="138" y2="215.5"/><line x1="124" y1="221" x2="138" y2="221"/><line x1="124" y1="226.5" x2="138" y2="226.5"/></g>
<circle cx="71.9" cy="284" r="29.3" fill="#2b4fe6"/>
<circle cx="71.9" cy="284.6" r="21.2" fill="#f6993f"/>
<path d="M71.9,263.6 L90.2,294.1 L55,294.1Z" fill="#2446d8"/>
<path d="M70,272.8 L73.5,273.8 L76.5,277 L78,280.5 L81,284.5 L80,288 L76.5,289.5 L74,292.3 L71,290 L68,287.5 L66,284.5 L67,280.5 L68,276.5Z" fill="#2e9444"/>
<rect x="68.8" y="295" width="6.2" height="8" fill="#d9534a"/><rect x="70.2" y="296.2" width="3.4" height="5.6" fill="#f6d9c8"/><rect x="71.5" y="296.2" width="0.9" height="5.6" fill="#d9534a"/>
<defs><path id="arcT" d="M49.8,288 A22.4,22.4 0 1 1 94.0,288"/><path id="arcB" d="M44.4,284 A27.5,27.5 0 0 0 99.4,284"/></defs>
<text font-family="Liberation Sans" font-weight="700" font-size="7.8" fill="#fff" letter-spacing="0.35"><textPath href="#arcT" startOffset="50%" text-anchor="middle">Protezione Civile</textPath></text>
<text font-family="Liberation Sans" font-size="4.8" fill="#dfe5ff"><textPath href="#arcB" startOffset="50%" text-anchor="middle">Regione Umbria</textPath></text>
<circle cx="142.8" cy="284" r="28.7" fill="#ef7b2c" stroke="#4a3540" stroke-width="0.9"/>
<path d="M143.3,262 L161.3,294.9 L123.8,294.9Z" fill="#2b3358"/>
<path d="M129.5,262 L132,260.6 L135.5,260.4 L138.5,261.6 L140.5,264 L143.5,265 L144.5,268.5 L144,271.5 L145.2,274 L145.2,284.5 L144,288 L141.5,290.5 L139.5,293.5 L136.5,295 L132,294.6 L129,295 L127,292.5 L125.6,289.5 L126.2,286 L125,283 L125.4,275 L126.5,272 L125.6,269 L127.5,266.8 L129.8,266.3 L128.6,264Z" fill="#fff"/>
<text x="126" y="283" font-family="Liberation Sans" font-weight="700" font-size="10.8" fill="#2b3358" textLength="16.6" lengthAdjust="spacingAndGlyphs">ANCI</text>
<text x="131.6" y="291" font-family="Liberation Sans" font-weight="700" font-size="8.7" fill="#ef7b2c" textLength="23.4" lengthAdjust="spacingAndGlyphs">UMBRIA</text>
<text x="126.9" y="306.6" font-family="Liberation Sans" font-weight="700" font-size="12.2" fill="#fff" textLength="31.2" lengthAdjust="spacingAndGlyphs">PROCIV</text>
<path d="M328,133.4 V144.3 M323,139.10000000000002 L328,144.3 L333,139.10000000000002" fill="none" stroke="#7db84d" stroke-width="1.35"/>
<path d="M892.8,133.29999999999998 V144.2 M887.8,139.0 L892.8,144.2 L897.8,139.0" fill="none" stroke="#7db84d" stroke-width="1.35"/>
<path d="M883.7,291.2 V280.3 M878.7,285.5 L883.7,280.3 L888.7,285.5" fill="none" stroke="#7db84d" stroke-width="1.35"/>
<path d="M94.6,438.0 V427.1 M89.6,432.3 L94.6,427.1 L99.6,432.3" fill="none" stroke="#e3686b" stroke-width="1.35"/>
<path d="M97.9,563.9 V553.0 M92.9,558.2 L97.9,553.0 L102.9,558.2" fill="none" stroke="#e3686b" stroke-width="1.35"/>
<path d="M304.1,552.1 V563.0 M299.1,557.8 L304.1,563.0 L309.1,557.8" fill="none" stroke="#7db84d" stroke-width="1.35"/>
<path d="M661.9,563.9 V553.0 M656.9,558.2 L661.9,553.0 L666.9,558.2" fill="none" stroke="#e3686b" stroke-width="1.35"/>
<path d="M886.9,566.1 V555.2 M881.9,560.4000000000001 L886.9,555.2 L891.9,560.4000000000001" fill="none" stroke="#e3686b" stroke-width="1.35"/>
</svg>
<svg class="top" width="1024" height="56" viewBox="0 0 1024 56">
<path d="M9.8,3.8 H16.1 V10.5 Q15.1,11 15.1,12.5 V21.5 Q16.3,24.5 16.3,28 Q16.3,31.5 15.1,34.5 V43.5 Q15.1,45 16.4,45.5 V52.7 H9.8Z" fill="#c9c9cb"/>
<path d="M43.2,3.8 H36.9 V10.5 Q37.9,11 37.9,12.5 V21.5 Q36.7,24.5 36.7,28 Q36.7,31.5 37.9,34.5 V43.5 Q37.9,45 36.6,45.5 V52.7 H43.2Z" fill="#c9c9cb"/>
<path d="M20.7,3.8 H23.7 Q24.5,5.5 24.4,7.5 Q23.45,9.5 23.45,11.5 V22 Q24.5,24.5 24.5,28 Q24.5,31.5 23.45,34 V44 Q23.5,46.5 24.599999999999998,48.5 V52.7 H19.8 V48.5 Q20.9,46.5 20.95,44 V34 Q19.9,31.5 19.9,28 Q19.9,24.5 20.95,22 V11.5 Q20.95,9.5 20.0,7.5 Q19.9,5.5 20.7,3.8Z" fill="#c9c9cb"/>
<path d="M29.0,3.8 H32.0 Q32.8,5.5 32.7,7.5 Q31.75,9.5 31.75,11.5 V22 Q32.8,24.5 32.8,28 Q32.8,31.5 31.75,34 V44 Q31.8,46.5 32.9,48.5 V52.7 H28.1 V48.5 Q29.2,46.5 29.25,44 V34 Q28.2,31.5 28.2,28 Q28.2,24.5 29.25,22 V11.5 Q29.25,9.5 28.3,7.5 Q28.2,5.5 29.0,3.8Z" fill="#c9c9cb"/>
<line x1="9" y1="11.0" x2="44.5" y2="11.0" stroke="#b8272d" stroke-width="0.55" opacity="0.8"/>
<line x1="9" y1="22.4" x2="44.5" y2="22.4" stroke="#b8272d" stroke-width="0.55" opacity="0.8"/>
<line x1="9" y1="33.8" x2="44.5" y2="33.8" stroke="#b8272d" stroke-width="0.55" opacity="0.8"/>
<line x1="9" y1="44.6" x2="44.5" y2="44.6" stroke="#b8272d" stroke-width="0.55" opacity="0.8"/>
</svg>
<div class="t" id="t0" style="left:91.99px;top:20.01px;font-family:'Liberation Sans';font-size:19.6px;font-weight:400;color:#fdeeee;transform:scaleX(1.0003);-webkit-text-stroke:0.35px #fff;">Dashboard COVID-19 Regione Umbria</div>
<div class="t" id="t1" style="left:16.48px;top:87.41px;font-family:'Liberation Sans';font-size:26.8px;font-weight:700;color:#434d6b;transform:scaleX(1.0293);">24/6/2021, 10:00</div>
<div class="t" id="t2" style="left:54.39px;top:121.66px;font-family:'Liberation Sans';font-size:13.4px;font-weight:700;color:#525b74;transform:scaleX(1.0554);">aggiornamento dati</div>
<div class="t" id="t3" style="left:321.92px;top:78.24px;font-family:'Liberation Sans';font-size:26.3px;font-weight:700;color:#434d6b;transform:scaleX(1.0835);">836</div>
<div class="t" id="t4" style="left:277.23px;top:109.96px;font-family:'Liberation Sans';font-size:13.4px;font-weight:700;color:#525b74;transform:scaleX(1.0807);">Attualmente positivi</div>
<div class="t" id="t5" style="left:341.14px;top:132.46px;font-family:'Liberation Sans';font-size:13.4px;font-weight:700;color:#7db84d;transform:scaleX(0.9328);">5.1%</div>
<div class="t" id="t6" style="left:476.97px;top:63.91px;font-family:'Liberation Sans';font-size:11.8px;font-weight:400;color:#474d5e;transform:scaleX(1.0681);-webkit-text-stroke:0.3px #474d5e;">Andamento attualmente positivi ultima settimana</div>
<div class="t" id="t7" style="left:902.12px;top:78.64px;font-family:'Liberation Sans';font-size:26.3px;font-weight:700;color:#434d6b;transform:scaleX(1.1313);">9</div>
<div class="t" id="t8" style="left:862.92px;top:109.46px;font-family:'Liberation Sans';font-size:13.4px;font-weight:700;color:#525b74;transform:scaleX(1.0670);">Nuovi positivi</div>
<div class="t" id="t9" style="left:906.12px;top:132.36px;font-family:'Liberation Sans';font-size:13.4px;font-weight:700;color:#7db84d;transform:scaleX(0.9542);">40%</div>
<div class="t" id="t10" style="left:871.02px;top:225.04px;font-family:'Liberation Sans';font-size:26.3px;font-weight:700;color:#434d6b;transform:scaleX(1.0499);">54551</div>
<div class="t" id="t11" style="left:885.90px;top:256.46px;font-family:'Liberation Sans';font-size:13.4px;font-weight:700;color:#525b74;transform:scaleX(1.0955);">Guariti</div>
<div class="t" id="t12" style="left:897.31px;top:279.36px;font-family:'Liberation Sans';font-size:13.4px;font-weight:700;color:#7db84d;transform:scaleX(0.9511);">0.099%</div>
<div class="t" id="t13" style="left:878.98px;top:368.44px;font-family:'Liberation Sans';font-size:26.3px;font-weight:700;color:#434d6b;transform:scaleX(1.0579);">1419</div>
<div class="t" id="t14" style="left:878.91px;top:399.46px;font-family:'Liberation Sans';font-size:13.4px;font-weight:700;color:#525b74;transform:scaleX(1.0897);">Deceduti</div>
<div class="t" id="t15" style="left:800.25px;top:416.87px;font-family:'Liberation Sans';font-size:12.2px;font-weight:400;color:#5b6273;transform:scaleX(1.0542);">Non variato rispetto al giorno</div>
<div class="t" id="t16" style="left:799.43px;top:431.57px;font-family:'Liberation Sans';font-size:12.2px;font-weight:400;color:#5b6273;transform:scaleX(1.0598);">precedente.</div>
<div class="t" id="t17" style="left:78.51px;top:371.54px;font-family:'Liberation Sans';font-size:26.3px;font-weight:700;color:#434d6b;transform:scaleX(1.0377);">56.806</div>
<div class="t" id="t18" style="left:54.55px;top:403.66px;font-family:'Liberation Sans';font-size:13.4px;font-weight:700;color:#525b74;transform:scaleX(1.0350);">Casi positivi (Totali)</div>
<div class="t" id="t19" style="left:107.78px;top:426.16px;font-family:'Liberation Sans';font-size:13.4px;font-weight:700;color:#e3686b;transform:scaleX(0.9672);">0.016%</div>
<div class="t" id="t20" style="left:96.31px;top:497.94px;font-family:'Liberation Sans';font-size:26.3px;font-weight:700;color:#434d6b;transform:scaleX(1.1069);">589</div>
<div class="t" id="t21" style="left:74.44px;top:529.36px;font-family:'Liberation Sans';font-size:13.4px;font-weight:700;color:#525b74;transform:scaleX(1.0442);">In isolamento</div>
<div class="t" id="t22" style="left:111.80px;top:552.06px;font-family:'Liberation Sans';font-size:13.4px;font-weight:700;color:#e3686b;transform:scaleX(0.9509);">0.17%</div>
<div class="t" id="t23" style="left:301.91px;top:497.74px;font-family:'Liberation Sans';font-size:26.3px;font-weight:700;color:#434d6b;transform:scaleX(1.0765);">23</div>
<div class="t" id="t24" style="left:282.91px;top:529.46px;font-family:'Liberation Sans';font-size:13.4px;font-weight:700;color:#525b74;transform:scaleX(1.0713);">Ricoverati</div>
<div class="t" id="t25" style="left:318.09px;top:551.16px;font-family:'Liberation Sans';font-size:13.4px;font-weight:700;color:#7db84d;transform:scaleX(0.9338);">8%</div>
<div class="t" id="t26" style="left:479.32px;top:494.54px;font-family:'Liberation Sans';font-size:26.3px;font-weight:700;color:#434d6b;transform:scaleX(1.1219);">2</div>
<div class="t" id="t27" style="left:419.62px;top:525.46px;font-family:'Liberation Sans';font-size:13.4px;font-weight:700;color:#525b74;transform:scaleX(1.0322);">di cui in terapia in...</div>
<div class="t" id="t28" style="left:404.71px;top:542.27px;font-family:'Liberation Sans';font-size:12.2px;font-weight:400;color:#5b6273;transform:scaleX(1.0630);">Non variato rispetto al</div>
<div class="t" id="t29" style="left:405.72px;top:557.07px;font-family:'Liberation Sans';font-size:12.2px;font-weight:400;color:#5b6273;transform:scaleX(1.0475);">giorno precedente.</div>
<div class="t" id="t30" style="left:634.36px;top:497.94px;font-family:'Liberation Sans';font-size:26.3px;font-weight:700;color:#434d6b;transform:scaleX(1.0226);">474.415</div>
<div class="t" id="t31" style="left:622.30px;top:529.36px;font-family:'Liberation Sans';font-size:13.4px;font-weight:700;color:#525b74;transform:scaleX(1.0469);">Antigenici eseguiti</div>
<div class="t" id="t32" style="left:675.80px;top:552.06px;font-family:'Liberation Sans';font-size:13.4px;font-weight:700;color:#e3686b;transform:scaleX(0.9509);">0.39%</div>
<div class="t" id="t33" style="left:860.47px;top:495.74px;font-family:'Liberation Sans';font-size:26.3px;font-weight:700;color:#434d6b;transform:scaleX(1.0182);">963.685</div>
<div class="t" id="t34" style="left:853.78px;top:529.36px;font-family:'Liberation Sans';font-size:13.4px;font-weight:700;color:#525b74;transform:scaleX(1.0283);">Tamponi eseguiti</div>
<div class="t" id="t35" style="left:900.30px;top:554.26px;font-family:'Liberation Sans';font-size:13.4px;font-weight:700;color:#e3686b;transform:scaleX(0.9638);">0.16%</div>
<div class="t" id="t36" style="left:250.76px;top:190.04px;font-family:'Liberation Sans';font-size:12px;font-weight:400;color:#474d5e;transform:scaleX(1.0828);-webkit-text-stroke:0.2px #474d5e;">Attualmente Positivi</div>
<div class="t" id="t37" style="left:532.59px;top:190.04px;font-family:'Liberation Sans';font-size:12px;font-weight:400;color:#474d5e;transform:scaleX(1.0193);-webkit-text-stroke:0.2px #474d5e;">Tasso positivi x 1000</div>
<div class="t" id="t38" style="left:289.58px;top:413.85px;font-family:'Liberation Sans';font-size:15.3px;font-weight:400;color:#4a5468;transform:scaleX(0.9818);-webkit-text-stroke:0.25px #4a5468;">0 - 6</div>
<div class="t" id="t39" style="left:349.46px;top:413.85px;font-family:'Liberation Sans';font-size:15.3px;font-weight:400;color:#4a5468;transform:scaleX(0.9707);-webkit-text-stroke:0.25px #4a5468;">12 - 25</div>
<div class="t" id="t40" style="left:426.90px;top:413.85px;font-family:'Liberation Sans';font-size:15.3px;font-weight:400;color:#4a5468;transform:scaleX(0.9782);-webkit-text-stroke:0.25px #4a5468;">36 - 37</div>
<div class="t" id="t41" style="left:343.00px;top:432.85px;font-family:'Liberation Sans';font-size:15.3px;font-weight:400;color:#4a5468;transform:scaleX(1.0348);-webkit-text-stroke:0.25px #4a5468;">54</div>
<div class="t" id="t42" style="left:390.66px;top:432.85px;font-family:'Liberation Sans';font-size:15.3px;font-weight:400;color:#4a5468;transform:scaleX(1.0216);-webkit-text-stroke:0.25px #4a5468;">78 +</div>
<div class="t" id="t43" style="left:586.58px;top:413.85px;font-family:'Liberation Sans';font-size:15.3px;font-weight:400;color:#4a5468;transform:scaleX(0.9712);-webkit-text-stroke:0.25px #4a5468;">0 - 0,47</div>
<div class="t" id="t44" style="left:667.56px;top:413.85px;font-family:'Liberation Sans';font-size:15.3px;font-weight:400;color:#4a5468;transform:scaleX(0.9801);-webkit-text-stroke:0.25px #4a5468;">0,54 - 1,25</div>
<div class="t" id="t45" style="left:560.94px;top:432.85px;font-family:'Liberation Sans';font-size:15.3px;font-weight:400;color:#4a5468;transform:scaleX(0.9904);-webkit-text-stroke:0.25px #4a5468;">1,73 - 2,16</div>
<div class="t" id="t46" style="left:663.90px;top:432.85px;font-family:'Liberation Sans';font-size:15.3px;font-weight:400;color:#4a5468;transform:scaleX(1.0016);-webkit-text-stroke:0.25px #4a5468;">3,66</div>
<div class="t" id="t47" style="left:723.07px;top:432.85px;font-family:'Liberation Sans';font-size:15.3px;font-weight:400;color:#4a5468;transform:scaleX(0.9695);-webkit-text-stroke:0.25px #4a5468;">5,19 +</div>
<div class="t" id="t48" style="left:497.19px;top:101.83px;font-family:'Liberation Sans';font-size:10px;font-weight:700;color:#525b74;transform:scaleX(1.1176);letter-spacing:0.7px;">953</div>
<div class="t" id="t49" style="left:531.29px;top:111.00px;font-family:'Liberation Sans';font-size:10px;font-weight:700;color:#525b74;transform:scaleX(1.1183);letter-spacing:0.7px;">926</div>
<div class="t" id="t50" style="left:565.56px;top:121.85px;font-family:'Liberation Sans';font-size:10px;font-weight:700;color:#525b74;transform:scaleX(1.0990);letter-spacing:0.7px;">894</div>
<div class="t" id="t51" style="left:600.53px;top:123.21px;font-family:'Liberation Sans';font-size:10px;font-weight:700;color:#525b74;transform:scaleX(1.1188);letter-spacing:0.7px;">890</div>
<div class="t" id="t52" style="left:634.64px;top:125.59px;font-family:'Liberation Sans';font-size:10px;font-weight:700;color:#525b74;transform:scaleX(1.1105);letter-spacing:0.7px;">883</div>
<div class="t" id="t53" style="left:669.62px;top:127.62px;font-family:'Liberation Sans';font-size:10px;font-weight:700;color:#525b74;transform:scaleX(1.1164);letter-spacing:0.7px;">877</div>
<div class="t" id="t54" style="left:703.73px;top:126.26px;font-family:'Liberation Sans';font-size:10px;font-weight:700;color:#525b74;transform:scaleX(1.1013);letter-spacing:0.7px;">881</div>
<div class="t" id="t55" style="left:737.82px;top:141.53px;font-family:'Liberation Sans';font-size:10px;font-weight:700;color:#525b74;transform:scaleX(1.1117);letter-spacing:0.7px;">836</div>
<div class="t" id="t56" style="left:41.17px;top:198.71px;font-family:'Liberation Serif';font-size:14.2px;font-weight:700;color:#cdcdcd;transform:scaleX(1.0815);">Agenda</div>
<div class="t" id="t57" style="left:22.73px;top:208.27px;font-family:'Liberation Serif';font-size:14.6px;font-weight:700;color:#c1272d;transform:scaleX(1.1174);">digitale</div>
<div class="t" id="t58" style="left:30.72px;top:223.46px;font-family:'Liberation Serif';font-size:9px;font-weight:700;color:#8a8a8a;transform:scaleX(1.0273);">dell'</div>
<div class="t" id="t59" style="left:46.38px;top:219.11px;font-family:'Liberation Serif';font-size:14.2px;font-weight:700;color:#999999;transform:scaleX(1.0449);">Umbria</div>
<div class="t" id="t60" style="left:141.66px;top:222.84px;font-family:'Liberation Sans';font-size:6.8px;font-weight:700;color:#4a4a4a;transform:scaleX(0.9799);">Regione Umbria</div>
</body></html>
